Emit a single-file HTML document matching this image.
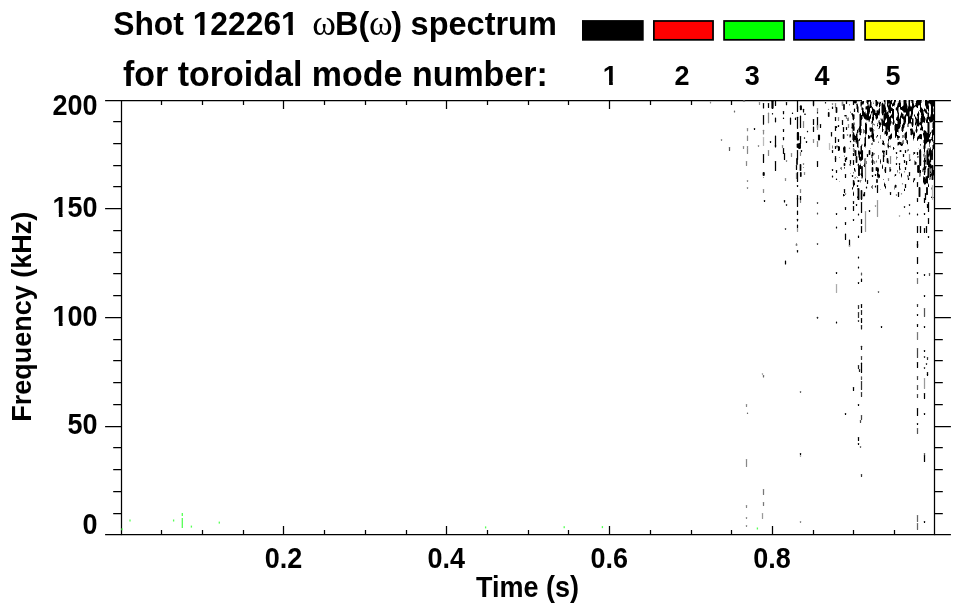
<!DOCTYPE html>
<html><head><meta charset="utf-8"><title>Shot 122261 spectrum</title>
<style>html,body{margin:0;padding:0;background:#fff;width:963px;height:615px;overflow:hidden}svg{display:block}</style>
</head><body><svg width="963" height="615" viewBox="0 0 963 615"><g stroke="#000" stroke-width="1.25" fill="none" stroke-linecap="butt"><path d="M121.5 100.5H934.5V534.5H121.5Z"/><path d="M105.1 534.50H121.5M934.5 534.50H950.9M113.2 513.50H121.5M934.5 513.50H942.8M113.2 491.50H121.5M934.5 491.50H942.8M113.2 469.50H121.5M934.5 469.50H942.8M113.2 447.50H121.5M934.5 447.50H942.8M105.1 426.50H121.5M934.5 426.50H950.9M113.2 404.50H121.5M934.5 404.50H942.8M113.2 382.50H121.5M934.5 382.50H942.8M113.2 360.50H121.5M934.5 360.50H942.8M113.2 339.50H121.5M934.5 339.50H942.8M105.1 317.50H121.5M934.5 317.50H950.9M113.2 295.50H121.5M934.5 295.50H942.8M113.2 273.50H121.5M934.5 273.50H942.8M113.2 252.50H121.5M934.5 252.50H942.8M113.2 230.50H121.5M934.5 230.50H942.8M105.1 208.50H121.5M934.5 208.50H950.9M113.2 186.50H121.5M934.5 186.50H942.8M113.2 165.50H121.5M934.5 165.50H942.8M113.2 143.50H121.5M934.5 143.50H942.8M113.2 121.50H121.5M934.5 121.50H942.8M105.1 100.50H121.5M934.5 100.50H950.9M161.50 534.5V530.1M161.50 100.5V104.9M202.50 534.5V530.1M202.50 100.5V104.9M243.50 534.5V530.1M243.50 100.5V104.9M283.50 534.5V526.0M283.50 100.5V109.0M324.50 534.5V530.1M324.50 100.5V104.9M365.50 534.5V530.1M365.50 100.5V104.9M406.50 534.5V530.1M406.50 100.5V104.9M446.50 534.5V526.0M446.50 100.5V109.0M487.50 534.5V530.1M487.50 100.5V104.9M528.50 534.5V530.1M528.50 100.5V104.9M568.50 534.5V530.1M568.50 100.5V104.9M609.50 534.5V526.0M609.50 100.5V109.0M650.50 534.5V530.1M650.50 100.5V104.9M691.50 534.5V530.1M691.50 100.5V104.9M731.50 534.5V530.1M731.50 100.5V104.9M772.50 534.5V526.0M772.50 100.5V109.0M813.50 534.5V530.1M813.50 100.5V104.9M853.50 534.5V530.1M853.50 100.5V104.9M894.50 534.5V530.1M894.50 100.5V104.9"/></g><g fill="#000"><g transform="translate(113.2 34.9) scale(1 1.04)"><text font-family="'Liberation Sans', Arial, Helvetica, sans-serif" font-weight="bold" font-size="31.8" text-anchor="start">Shot 122261</text><rect x="80.36" y="-4.35" width="6.50" height="5.35" fill="#fff"/><rect x="91.26" y="-4.35" width="6.10" height="5.35" fill="#fff"/><rect x="168.78" y="-4.35" width="6.50" height="5.35" fill="#fff"/><rect x="179.68" y="-4.35" width="6.10" height="5.35" fill="#fff"/></g><text transform="translate(312.2 35) scale(1 1.02)" font-family="'Liberation Serif', 'Times New Roman', serif" font-weight="normal" font-size="36" text-anchor="start">ω</text><text transform="translate(335.1 34.9) scale(1 1.04)" font-family="'Liberation Sans', Arial, Helvetica, sans-serif" font-weight="bold" font-size="32.5" text-anchor="start">B(</text><text transform="translate(368.9 35) scale(1 1.02)" font-family="'Liberation Serif', 'Times New Roman', serif" font-weight="normal" font-size="36" text-anchor="start">ω</text><text transform="translate(391.2 34.9) scale(1 1.04)" font-family="'Liberation Sans', Arial, Helvetica, sans-serif" font-weight="bold" font-size="32.5" text-anchor="start">)</text><text transform="translate(410.6 34.9) scale(1 1.04)" font-family="'Liberation Sans', Arial, Helvetica, sans-serif" font-weight="bold" font-size="32.5" text-anchor="start">spectrum</text><text transform="translate(123 85.9) scale(1 1.03)" font-family="'Liberation Sans', Arial, Helvetica, sans-serif" font-weight="bold" font-size="34" text-anchor="start">for toroidal mode number:</text><g transform="translate(610.3 85.1) scale(1 1.05)"><text font-family="'Liberation Sans', Arial, Helvetica, sans-serif" font-weight="bold" font-size="27" text-anchor="middle">1</text><rect x="-6.90" y="-3.86" width="5.68" height="4.86" fill="#fff"/><rect x="2.52" y="-3.86" width="5.34" height="4.86" fill="#fff"/></g><text transform="translate(681.9 85.1) scale(1 1.05)" font-family="'Liberation Sans', Arial, Helvetica, sans-serif" font-weight="bold" font-size="27" text-anchor="middle">2</text><text transform="translate(752.2 85.1) scale(1 1.05)" font-family="'Liberation Sans', Arial, Helvetica, sans-serif" font-weight="bold" font-size="27" text-anchor="middle">3</text><text transform="translate(822.0 85.1) scale(1 1.05)" font-family="'Liberation Sans', Arial, Helvetica, sans-serif" font-weight="bold" font-size="27" text-anchor="middle">4</text><text transform="translate(892.9 85.1) scale(1 1.05)" font-family="'Liberation Sans', Arial, Helvetica, sans-serif" font-weight="bold" font-size="27" text-anchor="middle">5</text><text transform="translate(97.6 114.8) scale(1 1.065)" font-family="'Liberation Sans', Arial, Helvetica, sans-serif" font-weight="bold" font-size="27" text-anchor="end">200</text><g transform="translate(97.6 217.2) scale(1 1.065)"><text font-family="'Liberation Sans', Arial, Helvetica, sans-serif" font-weight="bold" font-size="27" text-anchor="end">150</text><rect x="-44.43" y="-3.86" width="5.68" height="4.86" fill="#fff"/><rect x="-35.00" y="-3.86" width="5.34" height="4.86" fill="#fff"/></g><g transform="translate(97.6 325.9) scale(1 1.065)"><text font-family="'Liberation Sans', Arial, Helvetica, sans-serif" font-weight="bold" font-size="27" text-anchor="end">100</text><rect x="-44.43" y="-3.86" width="5.68" height="4.86" fill="#fff"/><rect x="-35.00" y="-3.86" width="5.34" height="4.86" fill="#fff"/></g><text transform="translate(97.6 434.3) scale(1 1.065)" font-family="'Liberation Sans', Arial, Helvetica, sans-serif" font-weight="bold" font-size="27" text-anchor="end">50</text><text transform="translate(97.6 534.3) scale(1 1.065)" font-family="'Liberation Sans', Arial, Helvetica, sans-serif" font-weight="bold" font-size="27" text-anchor="end">0</text><text transform="translate(283.48 568.1) scale(1 1.065)" font-family="'Liberation Sans', Arial, Helvetica, sans-serif" font-weight="bold" font-size="27" text-anchor="middle">0.2</text><text transform="translate(446.36 568.1) scale(1 1.065)" font-family="'Liberation Sans', Arial, Helvetica, sans-serif" font-weight="bold" font-size="27" text-anchor="middle">0.4</text><text transform="translate(609.24 568.1) scale(1 1.065)" font-family="'Liberation Sans', Arial, Helvetica, sans-serif" font-weight="bold" font-size="27" text-anchor="middle">0.6</text><text transform="translate(772.12 568.1) scale(1 1.065)" font-family="'Liberation Sans', Arial, Helvetica, sans-serif" font-weight="bold" font-size="27" text-anchor="middle">0.8</text><text transform="translate(476 597.1) scale(1 1.07)" font-family="'Liberation Sans', Arial, Helvetica, sans-serif" font-weight="bold" font-size="27" text-anchor="start">Time (s)</text><text transform="translate(31.4 421.8) rotate(-90) scale(1 1.05)" font-family="'Liberation Sans', Arial, Helvetica, sans-serif" font-weight="bold" font-size="27" text-anchor="start">Frequency (kHz)</text></g><rect x="582.875" y="20.975" width="59.950" height="18.850" fill="#000000" stroke="#000" stroke-width="1.75"/><rect x="653.875" y="20.975" width="59.150" height="18.850" fill="#ff0000" stroke="#000" stroke-width="1.75"/><rect x="724.075" y="20.975" width="59.950" height="18.850" fill="#00ff00" stroke="#000" stroke-width="1.75"/><rect x="793.975" y="20.975" width="59.850" height="18.850" fill="#0000ff" stroke="#000" stroke-width="1.75"/><rect x="865.075" y="20.975" width="58.950" height="18.850" fill="#ffff00" stroke="#000" stroke-width="1.75"/><rect x="862" y="99.6" width="71.8" height="2" fill="#fff"/><path fill="#000" d="M866.5 100h4.5v0.5h-4.5zM875 100h2v0.5h-2zM883.5 100h2v0.5h-2zM886.5 100h4v0.5h-4zM891 100h1.5v0.5h-1.5zM894 100h2v0.5h-2zM899 100h1.5v0.5h-1.5zM903.5 100h3v0.5h-3zM908.5 100h5v0.5h-5zM916.5 100h5.5v0.5h-5.5zM923.5 100h0.5v0.5h-0.5zM925 100h2.5v0.5h-2.5zM928.5 100h5.5v0.5h-5.5zM866.5 100.5h4.5v0.5h-4.5zM875.5 100.5h1.5v0.5h-1.5zM884 100.5h1.5v0.5h-1.5zM887 100.5h3.5v0.5h-3.5zM891 100.5h1.5v0.5h-1.5zM894 100.5h2v0.5h-2zM899 100.5h1.5v0.5h-1.5zM903.5 100.5h3v0.5h-3zM908.5 100.5h1.5v0.5h-1.5zM911 100.5h2.5v0.5h-2.5zM916.5 100.5h5v0.5h-5zM925 100.5h2.5v0.5h-2.5zM928.5 100.5h5.5v0.5h-5.5zM861 101h0.5v0.5h-0.5zM862.5 101h1.5v0.5h-1.5zM866.5 101h4.5v0.5h-4.5zM875.5 101h2v0.5h-2zM884 101h1.5v0.5h-1.5zM887 101h5v0.5h-5zM894 101h2v0.5h-2zM899 101h1.5v0.5h-1.5zM903.5 101h3v0.5h-3zM908.5 101h1.5v0.5h-1.5zM911.5 101h2v0.5h-2zM916 101h5.5v0.5h-5.5zM925 101h9v0.5h-9zM861 101.5h3v0.5h-3zM866.5 101.5h2.5v0.5h-2.5zM870 101.5h1v0.5h-1zM875.5 101.5h2v0.5h-2zM884 101.5h1.5v0.5h-1.5zM887 101.5h5v0.5h-5zM894 101.5h1.5v0.5h-1.5zM898.5 101.5h2v0.5h-2zM903.5 101.5h3v0.5h-3zM908.5 101.5h1.5v0.5h-1.5zM911.5 101.5h2v0.5h-2zM916 101.5h5.5v0.5h-5.5zM925 101.5h9v0.5h-9zM860.5 102h3.5v0.5h-3.5zM866.5 102h2v0.5h-2zM870 102h1.5v0.5h-1.5zM875.5 102h2.5v0.5h-2.5zM880 102h1v0.5h-1zM884.5 102h1v0.5h-1zM887 102h5v0.5h-5zM894 102h1.5v0.5h-1.5zM898.5 102h2v0.5h-2zM903.5 102h3v0.5h-3zM908.5 102h1.5v0.5h-1.5zM911.5 102h2v0.5h-2zM916 102h5.5v0.5h-5.5zM925 102h9v0.5h-9zM860.5 102.5h3.5v0.5h-3.5zM866.5 102.5h2v0.5h-2zM870 102.5h1.5v0.5h-1.5zM873 102.5h0.5v0.5h-0.5zM875.5 102.5h5.5v0.5h-5.5zM882.5 102.5h0.5v0.5h-0.5zM884.5 102.5h1v0.5h-1zM887 102.5h5v0.5h-5zM893 102.5h2v0.5h-2zM898.5 102.5h2.5v0.5h-2.5zM903.5 102.5h3v0.5h-3zM908.5 102.5h1.5v0.5h-1.5zM911.5 102.5h2v0.5h-2zM916 102.5h5.5v0.5h-5.5zM925 102.5h9v0.5h-9zM860.5 103h3.5v0.5h-3.5zM867 103h1.5v0.5h-1.5zM870 103h1.5v0.5h-1.5zM873 103h0.5v0.5h-0.5zM875.5 103h2.5v0.5h-2.5zM878.5 103h2.5v0.5h-2.5zM882 103h1v0.5h-1zM884.5 103h1v0.5h-1zM887 103h5v0.5h-5zM892.5 103h2v0.5h-2zM898 103h3v0.5h-3zM903.5 103h3v0.5h-3zM908.5 103h1.5v0.5h-1.5zM912 103h1.5v0.5h-1.5zM915.5 103h5.5v0.5h-5.5zM925 103h9v0.5h-9zM856.5 103.5h1v0.5h-1zM860.5 103.5h3v0.5h-3zM867 103.5h1.5v0.5h-1.5zM870 103.5h1.5v0.5h-1.5zM873 103.5h0.5v0.5h-0.5zM875.5 103.5h2.5v0.5h-2.5zM878.5 103.5h2v0.5h-2zM881.5 103.5h2v0.5h-2zM884.5 103.5h1v0.5h-1zM887 103.5h1.5v0.5h-1.5zM889.5 103.5h2.5v0.5h-2.5zM892.5 103.5h2v0.5h-2zM897.5 103.5h3.5v0.5h-3.5zM903.5 103.5h3.5v0.5h-3.5zM908.5 103.5h1.5v0.5h-1.5zM912 103.5h2v0.5h-2zM915.5 103.5h5.5v0.5h-5.5zM925 103.5h3.5v0.5h-3.5zM930 103.5h4v0.5h-4zM849.5 104h0.5v0.5h-0.5zM856.5 104h1v0.5h-1zM860.5 104h3v0.5h-3zM867.5 104h1v0.5h-1zM870 104h1.5v0.5h-1.5zM875.5 104h2.5v0.5h-2.5zM879 104h1.5v0.5h-1.5zM881.5 104h2v0.5h-2zM884.5 104h1v0.5h-1zM887 104h1.5v0.5h-1.5zM889.5 104h2v0.5h-2zM892 104h2.5v0.5h-2.5zM897.5 104h3.5v0.5h-3.5zM903.5 104h3.5v0.5h-3.5zM908.5 104h1.5v0.5h-1.5zM912 104h2v0.5h-2zM915.5 104h5.5v0.5h-5.5zM925 104h3.5v0.5h-3.5zM930.5 104h3.5v0.5h-3.5zM849.5 104.5h0.5v0.5h-0.5zM856 104.5h2v0.5h-2zM860.5 104.5h1.5v0.5h-1.5zM867.5 104.5h1v0.5h-1zM869.5 104.5h2v0.5h-2zM875.5 104.5h2.5v0.5h-2.5zM879 104.5h1.5v0.5h-1.5zM881.5 104.5h3.5v0.5h-3.5zM887 104.5h1.5v0.5h-1.5zM889 104.5h2v0.5h-2zM892 104.5h2.5v0.5h-2.5zM897.5 104.5h3.5v0.5h-3.5zM903.5 104.5h3.5v0.5h-3.5zM908.5 104.5h1.5v0.5h-1.5zM912 104.5h2v0.5h-2zM915.5 104.5h5.5v0.5h-5.5zM925 104.5h3.5v0.5h-3.5zM930.5 104.5h3.5v0.5h-3.5zM849.5 105h0.5v0.5h-0.5zM856.5 105h1.5v0.5h-1.5zM860.5 105h1.5v0.5h-1.5zM867.5 105h1v0.5h-1zM869.5 105h2v0.5h-2zM875.5 105h2v0.5h-2zM879 105h1.5v0.5h-1.5zM881.5 105h3.5v0.5h-3.5zM887 105h1.5v0.5h-1.5zM889 105h2v0.5h-2zM892 105h2.5v0.5h-2.5zM897.5 105h3.5v0.5h-3.5zM903.5 105h3.5v0.5h-3.5zM908.5 105h1.5v0.5h-1.5zM912 105h2.5v0.5h-2.5zM915 105h3.5v0.5h-3.5zM919.5 105h1.5v0.5h-1.5zM925 105h3.5v0.5h-3.5zM930.5 105h3.5v0.5h-3.5zM856.5 105.5h1.5v0.5h-1.5zM860.5 105.5h1v0.5h-1zM867.5 105.5h1.5v0.5h-1.5zM869.5 105.5h2v0.5h-2zM875.5 105.5h2v0.5h-2zM879 105.5h1.5v0.5h-1.5zM881.5 105.5h4v0.5h-4zM887 105.5h4v0.5h-4zM892 105.5h2.5v0.5h-2.5zM897 105.5h4v0.5h-4zM903 105.5h4.5v0.5h-4.5zM908.5 105.5h2v0.5h-2zM912 105.5h2.5v0.5h-2.5zM915 105.5h3.5v0.5h-3.5zM920 105.5h1v0.5h-1zM925.5 105.5h3.5v0.5h-3.5zM931 105.5h3v0.5h-3zM856.5 106h1.5v0.5h-1.5zM860.5 106h1v0.5h-1zM866 106h0.5v0.5h-0.5zM867 106h2v0.5h-2zM869.5 106h2.5v0.5h-2.5zM876 106h1.5v0.5h-1.5zM879 106h1v0.5h-1zM881.5 106h4v0.5h-4zM887 106h4v0.5h-4zM892 106h1v0.5h-1zM894 106h0.5v0.5h-0.5zM897 106h4v0.5h-4zM902.5 106h5v0.5h-5zM908.5 106h2v0.5h-2zM912 106h6v0.5h-6zM920 106h1v0.5h-1zM925.5 106h3.5v0.5h-3.5zM931 106h2v0.5h-2zM933.5 106h0.5v0.5h-0.5zM856.5 106.5h2v0.5h-2zM861 106.5h0.5v0.5h-0.5zM865.5 106.5h6.5v0.5h-6.5zM879 106.5h1v0.5h-1zM881.5 106.5h4v0.5h-4zM887.5 106.5h3.5v0.5h-3.5zM897 106.5h4v0.5h-4zM902 106.5h5.5v0.5h-5.5zM908 106.5h7v0.5h-7zM916 106.5h2v0.5h-2zM920 106.5h1v0.5h-1zM926 106.5h3v0.5h-3zM931 106.5h2v0.5h-2zM933.5 106.5h0.5v0.5h-0.5zM856.5 107h2v0.5h-2zM861 107h0.5v0.5h-0.5zM865.5 107h7v0.5h-7zM879.5 107h0.5v0.5h-0.5zM881.5 107h4v0.5h-4zM887.5 107h4v0.5h-4zM896.5 107h2.5v0.5h-2.5zM900 107h7.5v0.5h-7.5zM908 107h6.5v0.5h-6.5zM916.5 107h1.5v0.5h-1.5zM920 107h1.5v0.5h-1.5zM926 107h3v0.5h-3zM931 107h2v0.5h-2zM856.5 107.5h2v0.5h-2zM861.5 107.5h1.5v0.5h-1.5zM865.5 107.5h5.5v0.5h-5.5zM871.5 107.5h1.5v0.5h-1.5zM881.5 107.5h4.5v0.5h-4.5zM888 107.5h3.5v0.5h-3.5zM896 107.5h2.5v0.5h-2.5zM900 107.5h7.5v0.5h-7.5zM908 107.5h6v0.5h-6zM917 107.5h1v0.5h-1zM920 107.5h1.5v0.5h-1.5zM926 107.5h3v0.5h-3zM931 107.5h2v0.5h-2zM856.5 108h2v0.5h-2zM861.5 108h2v0.5h-2zM865.5 108h4.5v0.5h-4.5zM871.5 108h1.5v0.5h-1.5zM879 108h0.5v0.5h-0.5zM881.5 108h4.5v0.5h-4.5zM888 108h4.5v0.5h-4.5zM896 108h2.5v0.5h-2.5zM900 108h7.5v0.5h-7.5zM908 108h5.5v0.5h-5.5zM920 108h2v0.5h-2zM926 108h3v0.5h-3zM931 108h2v0.5h-2zM856.5 108.5h2v0.5h-2zM861.5 108.5h2v0.5h-2zM865.5 108.5h4.5v0.5h-4.5zM872 108.5h1.5v0.5h-1.5zM879 108.5h1v0.5h-1zM881.5 108.5h4.5v0.5h-4.5zM888 108.5h5v0.5h-5zM895.5 108.5h3v0.5h-3zM900 108.5h13.5v0.5h-13.5zM920 108.5h2.5v0.5h-2.5zM924 108.5h1v0.5h-1zM926 108.5h0.5v0.5h-0.5zM927 108.5h2v0.5h-2zM931 108.5h2.5v0.5h-2.5zM857 109h1.5v0.5h-1.5zM861.5 109h2v0.5h-2zM865.5 109h4.5v0.5h-4.5zM872 109h2v0.5h-2zM878.5 109h1.5v0.5h-1.5zM881.5 109h4.5v0.5h-4.5zM888 109h6v0.5h-6zM895.5 109h3v0.5h-3zM900.5 109h13v0.5h-13zM920 109h3v0.5h-3zM924 109h1v0.5h-1zM925.5 109h1v0.5h-1zM927.5 109h1.5v0.5h-1.5zM931 109h2.5v0.5h-2.5zM857 109.5h1.5v0.5h-1.5zM861.5 109.5h2v0.5h-2zM867 109.5h3v0.5h-3zM872 109.5h3v0.5h-3zM878.5 109.5h1.5v0.5h-1.5zM881.5 109.5h4.5v0.5h-4.5zM888.5 109.5h5.5v0.5h-5.5zM896 109.5h2.5v0.5h-2.5zM900.5 109.5h12.5v0.5h-12.5zM920 109.5h3v0.5h-3zM924 109.5h2.5v0.5h-2.5zM928 109.5h1v0.5h-1zM931 109.5h2.5v0.5h-2.5zM857 110h1.5v0.5h-1.5zM862 110h1.5v0.5h-1.5zM867 110h3v0.5h-3zM872 110h3v0.5h-3zM877 110h0.5v0.5h-0.5zM878.5 110h1.5v0.5h-1.5zM881.5 110h5v0.5h-5zM888.5 110h5.5v0.5h-5.5zM896.5 110h2v0.5h-2zM902 110h11v0.5h-11zM919.5 110h7v0.5h-7zM928 110h1v0.5h-1zM931 110h2.5v0.5h-2.5zM857 110.5h1.5v0.5h-1.5zM862 110.5h1.5v0.5h-1.5zM867 110.5h3v0.5h-3zM872 110.5h3.5v0.5h-3.5zM876.5 110.5h3.5v0.5h-3.5zM881.5 110.5h5v0.5h-5zM888.5 110.5h5.5v0.5h-5.5zM896.5 110.5h2v0.5h-2zM902.5 110.5h10.5v0.5h-10.5zM919.5 110.5h4v0.5h-4zM924 110.5h3v0.5h-3zM928 110.5h1v0.5h-1zM931 110.5h2.5v0.5h-2.5zM857 111h1.5v0.5h-1.5zM862 111h2v0.5h-2zM867 111h3v0.5h-3zM871.5 111h4v0.5h-4zM876.5 111h3.5v0.5h-3.5zM881.5 111h5v0.5h-5zM888.5 111h2.5v0.5h-2.5zM892 111h2v0.5h-2zM897 111h1.5v0.5h-1.5zM903 111h7v0.5h-7zM910.5 111h2.5v0.5h-2.5zM920 111h3.5v0.5h-3.5zM924 111h3v0.5h-3zM928.5 111h0.5v0.5h-0.5zM931 111h2.5v0.5h-2.5zM850 111.5h0.5v0.5h-0.5zM857 111.5h1.5v0.5h-1.5zM862 111.5h2v0.5h-2zM865 111.5h0.5v0.5h-0.5zM867 111.5h3v0.5h-3zM871 111.5h4.5v0.5h-4.5zM876.5 111.5h3.5v0.5h-3.5zM881.5 111.5h5v0.5h-5zM887.5 111.5h3.5v0.5h-3.5zM892 111.5h2v0.5h-2zM897 111.5h1.5v0.5h-1.5zM903.5 111.5h6v0.5h-6zM911 111.5h2v0.5h-2zM918 111.5h1v0.5h-1zM920 111.5h3.5v0.5h-3.5zM925 111.5h2v0.5h-2zM928.5 111.5h0.5v0.5h-0.5zM931 111.5h2.5v0.5h-2.5zM850 112h0.5v0.5h-0.5zM857.5 112h1v0.5h-1zM862 112h2.5v0.5h-2.5zM865 112h0.5v0.5h-0.5zM867 112h3v0.5h-3zM871 112h4.5v0.5h-4.5zM876.5 112h3.5v0.5h-3.5zM881.5 112h2.5v0.5h-2.5zM884.5 112h2v0.5h-2zM887 112h1.5v0.5h-1.5zM889 112h2v0.5h-2zM892 112h2v0.5h-2zM897 112h1.5v0.5h-1.5zM903.5 112h6v0.5h-6zM911 112h2v0.5h-2zM918 112h1v0.5h-1zM920.5 112h3v0.5h-3zM925 112h2.5v0.5h-2.5zM928.5 112h0.5v0.5h-0.5zM931 112h2v0.5h-2zM850.5 112.5h0.5v0.5h-0.5zM858 112.5h0.5v0.5h-0.5zM862 112.5h3.5v0.5h-3.5zM867 112.5h2.5v0.5h-2.5zM871 112.5h1v0.5h-1zM872.5 112.5h3v0.5h-3zM876.5 112.5h3.5v0.5h-3.5zM881.5 112.5h2.5v0.5h-2.5zM884.5 112.5h4v0.5h-4zM889.5 112.5h1.5v0.5h-1.5zM892 112.5h2v0.5h-2zM897.5 112.5h1.5v0.5h-1.5zM901 112.5h1v0.5h-1zM906 112.5h3.5v0.5h-3.5zM911 112.5h2v0.5h-2zM918 112.5h1v0.5h-1zM920.5 112.5h3v0.5h-3zM925.5 112.5h2v0.5h-2zM928.5 112.5h0.5v0.5h-0.5zM931 112.5h2v0.5h-2zM851.5 113h1v0.5h-1zM860 113h0.5v0.5h-0.5zM862 113h3.5v0.5h-3.5zM866.5 113h3v0.5h-3zM871 113h0.5v0.5h-0.5zM872.5 113h7.5v0.5h-7.5zM881.5 113h2.5v0.5h-2.5zM884.5 113h4v0.5h-4zM890 113h0.5v0.5h-0.5zM892 113h2v0.5h-2zM897.5 113h1.5v0.5h-1.5zM901 113h1v0.5h-1zM906 113h3.5v0.5h-3.5zM911 113h2v0.5h-2zM917.5 113h1.5v0.5h-1.5zM921 113h2.5v0.5h-2.5zM926 113h1.5v0.5h-1.5zM928 113h1v0.5h-1zM931 113h2v0.5h-2zM851.5 113.5h1.5v0.5h-1.5zM860 113.5h1v0.5h-1zM862 113.5h4v0.5h-4zM866.5 113.5h3v0.5h-3zM871 113.5h0.5v0.5h-0.5zM872.5 113.5h7v0.5h-7zM882 113.5h1.5v0.5h-1.5zM884 113.5h4.5v0.5h-4.5zM892 113.5h2v0.5h-2zM897.5 113.5h1.5v0.5h-1.5zM901 113.5h2v0.5h-2zM906 113.5h3.5v0.5h-3.5zM911 113.5h2v0.5h-2zM917.5 113.5h2v0.5h-2zM921 113.5h3v0.5h-3zM926.5 113.5h2.5v0.5h-2.5zM931 113.5h2v0.5h-2zM851.5 114h2v0.5h-2zM859.5 114h1.5v0.5h-1.5zM862 114h4v0.5h-4zM866.5 114h2.5v0.5h-2.5zM870.5 114h1v0.5h-1zM872.5 114h7v0.5h-7zM882 114h1.5v0.5h-1.5zM884 114h4.5v0.5h-4.5zM891.5 114h2.5v0.5h-2.5zM897.5 114h1.5v0.5h-1.5zM901 114h2.5v0.5h-2.5zM906 114h3.5v0.5h-3.5zM911 114h2v0.5h-2zM917 114h2.5v0.5h-2.5zM921 114h3v0.5h-3zM927.5 114h1.5v0.5h-1.5zM931 114h2v0.5h-2zM933.5 114h0.5v0.5h-0.5zM851.5 114.5h3v0.5h-3zM859.5 114.5h1.5v0.5h-1.5zM862 114.5h7v0.5h-7zM870.5 114.5h0.5v0.5h-0.5zM872.5 114.5h7v0.5h-7zM882 114.5h6.5v0.5h-6.5zM891.5 114.5h2.5v0.5h-2.5zM898 114.5h1v0.5h-1zM900.5 114.5h3v0.5h-3zM905 114.5h4.5v0.5h-4.5zM910.5 114.5h2v0.5h-2zM914 114.5h1v0.5h-1zM917 114.5h2v0.5h-2zM921 114.5h3v0.5h-3zM927.5 114.5h1.5v0.5h-1.5zM930.5 114.5h3.5v0.5h-3.5zM852 115h2.5v0.5h-2.5zM859.5 115h9.5v0.5h-9.5zM870 115h1v0.5h-1zM872.5 115h1.5v0.5h-1.5zM875 115h3v0.5h-3zM878.5 115h1v0.5h-1zM882.5 115h0.5v0.5h-0.5zM883.5 115h5.5v0.5h-5.5zM891 115h3v0.5h-3zM897.5 115h1.5v0.5h-1.5zM900.5 115h3v0.5h-3zM905 115h4.5v0.5h-4.5zM910.5 115h2v0.5h-2zM914 115h1v0.5h-1zM917 115h2v0.5h-2zM921 115h3v0.5h-3zM927.5 115h1.5v0.5h-1.5zM930.5 115h3.5v0.5h-3.5zM852 115.5h2.5v0.5h-2.5zM859.5 115.5h9.5v0.5h-9.5zM870 115.5h1v0.5h-1zM872.5 115.5h1.5v0.5h-1.5zM875 115.5h3v0.5h-3zM883.5 115.5h5.5v0.5h-5.5zM890.5 115.5h3.5v0.5h-3.5zM897.5 115.5h1.5v0.5h-1.5zM900.5 115.5h3v0.5h-3zM904.5 115.5h2v0.5h-2zM907 115.5h2.5v0.5h-2.5zM910.5 115.5h2v0.5h-2zM914 115.5h1v0.5h-1zM917 115.5h2v0.5h-2zM921.5 115.5h2.5v0.5h-2.5zM927.5 115.5h1.5v0.5h-1.5zM930.5 115.5h3.5v0.5h-3.5zM852 116h2.5v0.5h-2.5zM859.5 116h3v0.5h-3zM863 116h6.5v0.5h-6.5zM870 116h1v0.5h-1zM872.5 116h1.5v0.5h-1.5zM875.5 116h2.5v0.5h-2.5zM883.5 116h5.5v0.5h-5.5zM890 116h4v0.5h-4zM897.5 116h1.5v0.5h-1.5zM900 116h3.5v0.5h-3.5zM904.5 116h2v0.5h-2zM907.5 116h2v0.5h-2zM910 116h2.5v0.5h-2.5zM914 116h1v0.5h-1zM917.5 116h1.5v0.5h-1.5zM921 116h3.5v0.5h-3.5zM927.5 116h1.5v0.5h-1.5zM930.5 116h3.5v0.5h-3.5zM852.5 116.5h2v0.5h-2zM859.5 116.5h3v0.5h-3zM863.5 116.5h7.5v0.5h-7.5zM872.5 116.5h1.5v0.5h-1.5zM875.5 116.5h2.5v0.5h-2.5zM883.5 116.5h5.5v0.5h-5.5zM889.5 116.5h4.5v0.5h-4.5zM897 116.5h2v0.5h-2zM900 116.5h6v0.5h-6zM908 116.5h4v0.5h-4zM915 116.5h1v0.5h-1zM917.5 116.5h1.5v0.5h-1.5zM921 116.5h3.5v0.5h-3.5zM927.5 116.5h2v0.5h-2zM930 116.5h4v0.5h-4zM852.5 117h2v0.5h-2zM859.5 117h3v0.5h-3zM863.5 117h7.5v0.5h-7.5zM872 117h2v0.5h-2zM875.5 117h2.5v0.5h-2.5zM883.5 117h10.5v0.5h-10.5zM896.5 117h2.5v0.5h-2.5zM900 117h6v0.5h-6zM908 117h4v0.5h-4zM915 117h1v0.5h-1zM917.5 117h1.5v0.5h-1.5zM921 117h4v0.5h-4zM927 117h7v0.5h-7zM848 117.5h0.5v0.5h-0.5zM852.5 117.5h2v0.5h-2zM859.5 117.5h3v0.5h-3zM864 117.5h7v0.5h-7zM872 117.5h2v0.5h-2zM875.5 117.5h2.5v0.5h-2.5zM883.5 117.5h8v0.5h-8zM892 117.5h2v0.5h-2zM896.5 117.5h2.5v0.5h-2.5zM899.5 117.5h2v0.5h-2zM902 117.5h4v0.5h-4zM908 117.5h4v0.5h-4zM915 117.5h1.5v0.5h-1.5zM917.5 117.5h1.5v0.5h-1.5zM921 117.5h4v0.5h-4zM926.5 117.5h7.5v0.5h-7.5zM847.5 118h1v0.5h-1zM852.5 118h2v0.5h-2zM859.5 118h3v0.5h-3zM864 118h7v0.5h-7zM872 118h2v0.5h-2zM875.5 118h2v0.5h-2zM883.5 118h7.5v0.5h-7.5zM892.5 118h1.5v0.5h-1.5zM896.5 118h2.5v0.5h-2.5zM899.5 118h1.5v0.5h-1.5zM902 118h4v0.5h-4zM908 118h4.5v0.5h-4.5zM915 118h1.5v0.5h-1.5zM917.5 118h1.5v0.5h-1.5zM920.5 118h5v0.5h-5zM926.5 118h7.5v0.5h-7.5zM847.5 118.5h1v0.5h-1zM852.5 118.5h2v0.5h-2zM859.5 118.5h3v0.5h-3zM864.5 118.5h6v0.5h-6zM872 118.5h2v0.5h-2zM876 118.5h1.5v0.5h-1.5zM880.5 118.5h0.5v0.5h-0.5zM881.5 118.5h1v0.5h-1zM883.5 118.5h2.5v0.5h-2.5zM887 118.5h4v0.5h-4zM892.5 118.5h1.5v0.5h-1.5zM896 118.5h3v0.5h-3zM899.5 118.5h1.5v0.5h-1.5zM902.5 118.5h3.5v0.5h-3.5zM908 118.5h5.5v0.5h-5.5zM915 118.5h2v0.5h-2zM917.5 118.5h1.5v0.5h-1.5zM920.5 118.5h5v0.5h-5zM926.5 118.5h7.5v0.5h-7.5zM847.5 119h1v0.5h-1zM852.5 119h1.5v0.5h-1.5zM859.5 119h2.5v0.5h-2.5zM865 119h5v0.5h-5zM872 119h2v0.5h-2zM876 119h1v0.5h-1zM880.5 119h0.5v0.5h-0.5zM881.5 119h1v0.5h-1zM883.5 119h2.5v0.5h-2.5zM887 119h4v0.5h-4zM893 119h1v0.5h-1zM896 119h5v0.5h-5zM903 119h3v0.5h-3zM908 119h3.5v0.5h-3.5zM912 119h1.5v0.5h-1.5zM915.5 119h3.5v0.5h-3.5zM920.5 119h5v0.5h-5zM926.5 119h7.5v0.5h-7.5zM847.5 119.5h1v0.5h-1zM853 119.5h1v0.5h-1zM859.5 119.5h2.5v0.5h-2.5zM866.5 119.5h3.5v0.5h-3.5zM872 119.5h2v0.5h-2zM881 119.5h2v0.5h-2zM883.5 119.5h2v0.5h-2zM887 119.5h4v0.5h-4zM893 119.5h1v0.5h-1zM896 119.5h5v0.5h-5zM903.5 119.5h2.5v0.5h-2.5zM908 119.5h3v0.5h-3zM912 119.5h1.5v0.5h-1.5zM915.5 119.5h3.5v0.5h-3.5zM920.5 119.5h5v0.5h-5zM926 119.5h2v0.5h-2zM929 119.5h5v0.5h-5zM847.5 120h1v0.5h-1zM853 120h0.5v0.5h-0.5zM859.5 120h2v0.5h-2zM866.5 120h1v0.5h-1zM868.5 120h1.5v0.5h-1.5zM872 120h1.5v0.5h-1.5zM879 120h0.5v0.5h-0.5zM881 120h2v0.5h-2zM883.5 120h2v0.5h-2zM887 120h4v0.5h-4zM893 120h1v0.5h-1zM896.5 120h4.5v0.5h-4.5zM903.5 120h2.5v0.5h-2.5zM908 120h3v0.5h-3zM912 120h1.5v0.5h-1.5zM915.5 120h3.5v0.5h-3.5zM920.5 120h5v0.5h-5zM926 120h2v0.5h-2zM929 120h5v0.5h-5zM847.5 120.5h1v0.5h-1zM859.5 120.5h2v0.5h-2zM868.5 120.5h1v0.5h-1zM872 120.5h1.5v0.5h-1.5zM878.5 120.5h1v0.5h-1zM881.5 120.5h3.5v0.5h-3.5zM887 120.5h4v0.5h-4zM893 120.5h1.5v0.5h-1.5zM897 120.5h4v0.5h-4zM903.5 120.5h2.5v0.5h-2.5zM908 120.5h3v0.5h-3zM912 120.5h1.5v0.5h-1.5zM915.5 120.5h3.5v0.5h-3.5zM920.5 120.5h4.5v0.5h-4.5zM926 120.5h2v0.5h-2zM929 120.5h4.5v0.5h-4.5zM859.5 121h2v0.5h-2zM868.5 121h1v0.5h-1zM871.5 121h1.5v0.5h-1.5zM878.5 121h1v0.5h-1zM881.5 121h3.5v0.5h-3.5zM887 121h4.5v0.5h-4.5zM893 121h1.5v0.5h-1.5zM897.5 121h3.5v0.5h-3.5zM903.5 121h2.5v0.5h-2.5zM908 121h3v0.5h-3zM912 121h1.5v0.5h-1.5zM915.5 121h3.5v0.5h-3.5zM920.5 121h4.5v0.5h-4.5zM926 121h2v0.5h-2zM929.5 121h4v0.5h-4zM859.5 121.5h2v0.5h-2zM869 121.5h0.5v0.5h-0.5zM871.5 121.5h1.5v0.5h-1.5zM878.5 121.5h1v0.5h-1zM881.5 121.5h3.5v0.5h-3.5zM887 121.5h4.5v0.5h-4.5zM893 121.5h1.5v0.5h-1.5zM897.5 121.5h3.5v0.5h-3.5zM903.5 121.5h2.5v0.5h-2.5zM908 121.5h3v0.5h-3zM912 121.5h1.5v0.5h-1.5zM915.5 121.5h4v0.5h-4zM920.5 121.5h4.5v0.5h-4.5zM926 121.5h2v0.5h-2zM929.5 121.5h3v0.5h-3zM933 121.5h1v0.5h-1zM859.5 122h2v0.5h-2zM871.5 122h1.5v0.5h-1.5zM878.5 122h1.5v0.5h-1.5zM881.5 122h3.5v0.5h-3.5zM886.5 122h5v0.5h-5zM892.5 122h2v0.5h-2zM897.5 122h3.5v0.5h-3.5zM903.5 122h2.5v0.5h-2.5zM908 122h3v0.5h-3zM911.5 122h2v0.5h-2zM915.5 122h4v0.5h-4zM920 122h3v0.5h-3zM923.5 122h1.5v0.5h-1.5zM926 122h3.5v0.5h-3.5zM930 122h1.5v0.5h-1.5zM933 122h1v0.5h-1zM853.5 122.5h1v0.5h-1zM859.5 122.5h2v0.5h-2zM865.5 122.5h1v0.5h-1zM871.5 122.5h1.5v0.5h-1.5zM878.5 122.5h2.5v0.5h-2.5zM881.5 122.5h3.5v0.5h-3.5zM886 122.5h5.5v0.5h-5.5zM892.5 122.5h2v0.5h-2zM897.5 122.5h3.5v0.5h-3.5zM903.5 122.5h2v0.5h-2zM908 122.5h5.5v0.5h-5.5zM915 122.5h4.5v0.5h-4.5zM920 122.5h2.5v0.5h-2.5zM924 122.5h0.5v0.5h-0.5zM926.5 122.5h3v0.5h-3zM932.5 122.5h1.5v0.5h-1.5zM853.5 123h1v0.5h-1zM859.5 123h2v0.5h-2zM865 123h1.5v0.5h-1.5zM871.5 123h1v0.5h-1zM877 123h0.5v0.5h-0.5zM878.5 123h2.5v0.5h-2.5zM881.5 123h10v0.5h-10zM892.5 123h2v0.5h-2zM897.5 123h3.5v0.5h-3.5zM903 123h2.5v0.5h-2.5zM908 123h5.5v0.5h-5.5zM915 123h7.5v0.5h-7.5zM927.5 123h2v0.5h-2zM932.5 123h1.5v0.5h-1.5zM853.5 123.5h1v0.5h-1zM859.5 123.5h2v0.5h-2zM865 123.5h1.5v0.5h-1.5zM871.5 123.5h1v0.5h-1zM873.5 123.5h0.5v0.5h-0.5zM877 123.5h0.5v0.5h-0.5zM879 123.5h2v0.5h-2zM881.5 123.5h9.5v0.5h-9.5zM892.5 123.5h1.5v0.5h-1.5zM895 123.5h1v0.5h-1zM897.5 123.5h3.5v0.5h-3.5zM903 123.5h2.5v0.5h-2.5zM907.5 123.5h1.5v0.5h-1.5zM911.5 123.5h2v0.5h-2zM915 123.5h1v0.5h-1zM916.5 123.5h5.5v0.5h-5.5zM927.5 123.5h2v0.5h-2zM932.5 123.5h1.5v0.5h-1.5zM853.5 124h1v0.5h-1zM859.5 124h2v0.5h-2zM865 124h2v0.5h-2zM872 124h0.5v0.5h-0.5zM873.5 124h1v0.5h-1zM877 124h0.5v0.5h-0.5zM879 124h2v0.5h-2zM881.5 124h9.5v0.5h-9.5zM892.5 124h1.5v0.5h-1.5zM895 124h5.5v0.5h-5.5zM902.5 124h2.5v0.5h-2.5zM907.5 124h1v0.5h-1zM911.5 124h2v0.5h-2zM915 124h1v0.5h-1zM916.5 124h5.5v0.5h-5.5zM927.5 124h2v0.5h-2zM932.5 124h1.5v0.5h-1.5zM853 124.5h1.5v0.5h-1.5zM859.5 124.5h2v0.5h-2zM865 124.5h2v0.5h-2zM872 124.5h0.5v0.5h-0.5zM873.5 124.5h1v0.5h-1zM877 124.5h0.5v0.5h-0.5zM879 124.5h2v0.5h-2zM881.5 124.5h9v0.5h-9zM893 124.5h0.5v0.5h-0.5zM895 124.5h5.5v0.5h-5.5zM902.5 124.5h2.5v0.5h-2.5zM907.5 124.5h1v0.5h-1zM911.5 124.5h2v0.5h-2zM915 124.5h1v0.5h-1zM916.5 124.5h3v0.5h-3zM920 124.5h2v0.5h-2zM927.5 124.5h2v0.5h-2zM932.5 124.5h1.5v0.5h-1.5zM853 125h1.5v0.5h-1.5zM859.5 125h2v0.5h-2zM865 125h2v0.5h-2zM872 125h0.5v0.5h-0.5zM874 125h0.5v0.5h-0.5zM877 125h1v0.5h-1zM879.5 125h1.5v0.5h-1.5zM882 125h8.5v0.5h-8.5zM894.5 125h6v0.5h-6zM902 125h2.5v0.5h-2.5zM907.5 125h1v0.5h-1zM911.5 125h2v0.5h-2zM915.5 125h0.5v0.5h-0.5zM916.5 125h3v0.5h-3zM920.5 125h1.5v0.5h-1.5zM927.5 125h2v0.5h-2zM932.5 125h1.5v0.5h-1.5zM852.5 125.5h1.5v0.5h-1.5zM859.5 125.5h2v0.5h-2zM865 125.5h2v0.5h-2zM872 125.5h0.5v0.5h-0.5zM877 125.5h1v0.5h-1zM879.5 125.5h1v0.5h-1zM882 125.5h1.5v0.5h-1.5zM884 125.5h6.5v0.5h-6.5zM894.5 125.5h6v0.5h-6zM902 125.5h2.5v0.5h-2.5zM907.5 125.5h1v0.5h-1zM912 125.5h1v0.5h-1zM916.5 125.5h2.5v0.5h-2.5zM921 125.5h1.5v0.5h-1.5zM927.5 125.5h2v0.5h-2zM932.5 125.5h1.5v0.5h-1.5zM852 126h2v0.5h-2zM859.5 126h1.5v0.5h-1.5zM865 126h2v0.5h-2zM872 126h0.5v0.5h-0.5zM877 126h0.5v0.5h-0.5zM879 126h1.5v0.5h-1.5zM882 126h1v0.5h-1zM884.5 126h5.5v0.5h-5.5zM894.5 126h6v0.5h-6zM902 126h2.5v0.5h-2.5zM907.5 126h1v0.5h-1zM912 126h1v0.5h-1zM916.5 126h1v0.5h-1zM918 126h1v0.5h-1zM921 126h1.5v0.5h-1.5zM927.5 126h2v0.5h-2zM932.5 126h1.5v0.5h-1.5zM852 126.5h2v0.5h-2zM859 126.5h2v0.5h-2zM865 126.5h2v0.5h-2zM872 126.5h0.5v0.5h-0.5zM879 126.5h1.5v0.5h-1.5zM882 126.5h1v0.5h-1zM885.5 126.5h4.5v0.5h-4.5zM894.5 126.5h6v0.5h-6zM902 126.5h2.5v0.5h-2.5zM907.5 126.5h1v0.5h-1zM912 126.5h1v0.5h-1zM916 126.5h1v0.5h-1zM921 126.5h1.5v0.5h-1.5zM927.5 126.5h2v0.5h-2zM932.5 126.5h1.5v0.5h-1.5zM851.5 127h2.5v0.5h-2.5zM859 127h2v0.5h-2zM865 127h2v0.5h-2zM870 127h0.5v0.5h-0.5zM871.5 127h1v0.5h-1zM879 127h1v0.5h-1zM882 127h1v0.5h-1zM885.5 127h4.5v0.5h-4.5zM894.5 127h5.5v0.5h-5.5zM901.5 127h3v0.5h-3zM916 127h1v0.5h-1zM921 127h2v0.5h-2zM927.5 127h2v0.5h-2zM932.5 127h1.5v0.5h-1.5zM851.5 127.5h2.5v0.5h-2.5zM859 127.5h2v0.5h-2zM865 127.5h2v0.5h-2zM869.5 127.5h1v0.5h-1zM871.5 127.5h1v0.5h-1zM879 127.5h1v0.5h-1zM882 127.5h1v0.5h-1zM885.5 127.5h4.5v0.5h-4.5zM894.5 127.5h5.5v0.5h-5.5zM901.5 127.5h2.5v0.5h-2.5zM916 127.5h1v0.5h-1zM920.5 127.5h2.5v0.5h-2.5zM927.5 127.5h2v0.5h-2zM932.5 127.5h1.5v0.5h-1.5zM851.5 128h2.5v0.5h-2.5zM858.5 128h2.5v0.5h-2.5zM865 128h2v0.5h-2zM869.5 128h3.5v0.5h-3.5zM878.5 128h1v0.5h-1zM882 128h1v0.5h-1zM885.5 128h4.5v0.5h-4.5zM894.5 128h5.5v0.5h-5.5zM901.5 128h2.5v0.5h-2.5zM916 128h1v0.5h-1zM920.5 128h2.5v0.5h-2.5zM927.5 128h2v0.5h-2zM933 128h1v0.5h-1zM852.5 128.5h1.5v0.5h-1.5zM858.5 128.5h2.5v0.5h-2.5zM865 128.5h2v0.5h-2zM869.5 128.5h3.5v0.5h-3.5zM878.5 128.5h1v0.5h-1zM882 128.5h1v0.5h-1zM885.5 128.5h4.5v0.5h-4.5zM894.5 128.5h4.5v0.5h-4.5zM901.5 128.5h2v0.5h-2zM910.5 128.5h2v0.5h-2zM916 128.5h1v0.5h-1zM920 128.5h3v0.5h-3zM927.5 128.5h2v0.5h-2zM933 128.5h1v0.5h-1zM853 129h1v0.5h-1zM858 129h3.5v0.5h-3.5zM863.5 129h0.5v0.5h-0.5zM865 129h2v0.5h-2zM869.5 129h4v0.5h-4zM882 129h1.5v0.5h-1.5zM885.5 129h4.5v0.5h-4.5zM894.5 129h4v0.5h-4zM901.5 129h2v0.5h-2zM910 129h2.5v0.5h-2.5zM916 129h1.5v0.5h-1.5zM920 129h3v0.5h-3zM927.5 129h2v0.5h-2zM932.5 129h1.5v0.5h-1.5zM853.5 129.5h0.5v0.5h-0.5zM857.5 129.5h1v0.5h-1zM859 129.5h2.5v0.5h-2.5zM863.5 129.5h0.5v0.5h-0.5zM865 129.5h2v0.5h-2zM869.5 129.5h4v0.5h-4zM882 129.5h1.5v0.5h-1.5zM885.5 129.5h2v0.5h-2zM888 129.5h2v0.5h-2zM894.5 129.5h4v0.5h-4zM901.5 129.5h2v0.5h-2zM910 129.5h3v0.5h-3zM915.5 129.5h2v0.5h-2zM920 129.5h3v0.5h-3zM927.5 129.5h2v0.5h-2zM932.5 129.5h1.5v0.5h-1.5zM853.5 130h0.5v0.5h-0.5zM857 130h1.5v0.5h-1.5zM859 130h2.5v0.5h-2.5zM863.5 130h1v0.5h-1zM865 130h2v0.5h-2zM869.5 130h4v0.5h-4zM882 130h1.5v0.5h-1.5zM885.5 130h2v0.5h-2zM888.5 130h1.5v0.5h-1.5zM894.5 130h4v0.5h-4zM901.5 130h2v0.5h-2zM910 130h3v0.5h-3zM915.5 130h2v0.5h-2zM920 130h0.5v0.5h-0.5zM921.5 130h1.5v0.5h-1.5zM924 130h0.5v0.5h-0.5zM927.5 130h2v0.5h-2zM932 130h2v0.5h-2zM857 130.5h1.5v0.5h-1.5zM859 130.5h2.5v0.5h-2.5zM863.5 130.5h1v0.5h-1zM865 130.5h2v0.5h-2zM870 130.5h3.5v0.5h-3.5zM874.5 130.5h0.5v0.5h-0.5zM882 130.5h1v0.5h-1zM885.5 130.5h2v0.5h-2zM888.5 130.5h1.5v0.5h-1.5zM895 130.5h3.5v0.5h-3.5zM901.5 130.5h2v0.5h-2zM910.5 130.5h3v0.5h-3zM915.5 130.5h2v0.5h-2zM922 130.5h0.5v0.5h-0.5zM923.5 130.5h2v0.5h-2zM927.5 130.5h2v0.5h-2zM931.5 130.5h2.5v0.5h-2.5zM857 131h1.5v0.5h-1.5zM859 131h2.5v0.5h-2.5zM863.5 131h1v0.5h-1zM865 131h2v0.5h-2zM870 131h3.5v0.5h-3.5zM882 131h1v0.5h-1zM885 131h2.5v0.5h-2.5zM888.5 131h1.5v0.5h-1.5zM895 131h3.5v0.5h-3.5zM902 131h1v0.5h-1zM910.5 131h3v0.5h-3zM915.5 131h2v0.5h-2zM923.5 131h2.5v0.5h-2.5zM927.5 131h2v0.5h-2zM931.5 131h2.5v0.5h-2.5zM857 131.5h1.5v0.5h-1.5zM859 131.5h2.5v0.5h-2.5zM863.5 131.5h1v0.5h-1zM865 131.5h2v0.5h-2zM870 131.5h0.5v0.5h-0.5zM871.5 131.5h2v0.5h-2zM882 131.5h1v0.5h-1zM884.5 131.5h3v0.5h-3zM888.5 131.5h1v0.5h-1zM895 131.5h3.5v0.5h-3.5zM902 131.5h1v0.5h-1zM906 131.5h0.5v0.5h-0.5zM910.5 131.5h3v0.5h-3zM914.5 131.5h0.5v0.5h-0.5zM916 131.5h1v0.5h-1zM923.5 131.5h3v0.5h-3zM927.5 131.5h2v0.5h-2zM931.5 131.5h2.5v0.5h-2.5zM853.5 132h0.5v0.5h-0.5zM857 132h1.5v0.5h-1.5zM859.5 132h2v0.5h-2zM863.5 132h1v0.5h-1zM865 132h2v0.5h-2zM871.5 132h2v0.5h-2zM884.5 132h3.5v0.5h-3.5zM895 132h2v0.5h-2zM898 132h0.5v0.5h-0.5zM905.5 132h1.5v0.5h-1.5zM910.5 132h3v0.5h-3zM914.5 132h0.5v0.5h-0.5zM916 132h1v0.5h-1zM923.5 132h3v0.5h-3zM927.5 132h2v0.5h-2zM930.5 132h0.5v0.5h-0.5zM931.5 132h2.5v0.5h-2.5zM853 132.5h1v0.5h-1zM856.5 132.5h1.5v0.5h-1.5zM859.5 132.5h2v0.5h-2zM863.5 132.5h1v0.5h-1zM865 132.5h2v0.5h-2zM871.5 132.5h2v0.5h-2zM884.5 132.5h3.5v0.5h-3.5zM895 132.5h2v0.5h-2zM905.5 132.5h1.5v0.5h-1.5zM910.5 132.5h4.5v0.5h-4.5zM916.5 132.5h0.5v0.5h-0.5zM923.5 132.5h3.5v0.5h-3.5zM927.5 132.5h2v0.5h-2zM930 132.5h1v0.5h-1zM931.5 132.5h2.5v0.5h-2.5zM853 133h1v0.5h-1zM856.5 133h1v0.5h-1zM859.5 133h1.5v0.5h-1.5zM863.5 133h0.5v0.5h-0.5zM865 133h2v0.5h-2zM871.5 133h2v0.5h-2zM884.5 133h3.5v0.5h-3.5zM895 133h2v0.5h-2zM905 133h2v0.5h-2zM910.5 133h4.5v0.5h-4.5zM923 133h6v0.5h-6zM929.5 133h1.5v0.5h-1.5zM932 133h2v0.5h-2zM852.5 133.5h2v0.5h-2zM856.5 133.5h1v0.5h-1zM859.5 133.5h1.5v0.5h-1.5zM865 133.5h1.5v0.5h-1.5zM871.5 133.5h2.5v0.5h-2.5zM884.5 133.5h3.5v0.5h-3.5zM891 133.5h1v0.5h-1zM895 133.5h2v0.5h-2zM904.5 133.5h2.5v0.5h-2.5zM910.5 133.5h4.5v0.5h-4.5zM923 133.5h6v0.5h-6zM929.5 133.5h1.5v0.5h-1.5zM932 133.5h2v0.5h-2zM850 134h0.5v0.5h-0.5zM852.5 134h2v0.5h-2zM856 134h1.5v0.5h-1.5zM859.5 134h1.5v0.5h-1.5zM865 134h0.5v0.5h-0.5zM866 134h0.5v0.5h-0.5zM871.5 134h2.5v0.5h-2.5zM884.5 134h0.5v0.5h-0.5zM885.5 134h2.5v0.5h-2.5zM890.5 134h1.5v0.5h-1.5zM895 134h2v0.5h-2zM904.5 134h2.5v0.5h-2.5zM910.5 134h4.5v0.5h-4.5zM919.5 134h2v0.5h-2zM923 134h7.5v0.5h-7.5zM932 134h2v0.5h-2zM849.5 134.5h1.5v0.5h-1.5zM852.5 134.5h2v0.5h-2zM856 134.5h1.5v0.5h-1.5zM859.5 134.5h1.5v0.5h-1.5zM865 134.5h0.5v0.5h-0.5zM871.5 134.5h2.5v0.5h-2.5zM886 134.5h1.5v0.5h-1.5zM890.5 134.5h1.5v0.5h-1.5zM895 134.5h2v0.5h-2zM904.5 134.5h2.5v0.5h-2.5zM910.5 134.5h1.5v0.5h-1.5zM913 134.5h2v0.5h-2zM919.5 134.5h2.5v0.5h-2.5zM923 134.5h7.5v0.5h-7.5zM932 134.5h2v0.5h-2zM849.5 135h1.5v0.5h-1.5zM852.5 135h2.5v0.5h-2.5zM856 135h1.5v0.5h-1.5zM860 135h0.5v0.5h-0.5zM865 135h0.5v0.5h-0.5zM868 135h1v0.5h-1zM871 135h3v0.5h-3zM877 135h1v0.5h-1zM880 135h0.5v0.5h-0.5zM886 135h1.5v0.5h-1.5zM890 135h2v0.5h-2zM895 135h3v0.5h-3zM902.5 135h1v0.5h-1zM904.5 135h2.5v0.5h-2.5zM911 135h0.5v0.5h-0.5zM913 135h2v0.5h-2zM919 135h3v0.5h-3zM923 135h7.5v0.5h-7.5zM932 135h1.5v0.5h-1.5zM849.5 135.5h1.5v0.5h-1.5zM852.5 135.5h2.5v0.5h-2.5zM855.5 135.5h2v0.5h-2zM865 135.5h0.5v0.5h-0.5zM868 135.5h1.5v0.5h-1.5zM870 135.5h4v0.5h-4zM877 135.5h1v0.5h-1zM880 135.5h0.5v0.5h-0.5zM886 135.5h1v0.5h-1zM889.5 135.5h2.5v0.5h-2.5zM895 135.5h3.5v0.5h-3.5zM902.5 135.5h1v0.5h-1zM904.5 135.5h2.5v0.5h-2.5zM913 135.5h2v0.5h-2zM918.5 135.5h3.5v0.5h-3.5zM923.5 135.5h6.5v0.5h-6.5zM932 135.5h1v0.5h-1zM849.5 136h1.5v0.5h-1.5zM852.5 136h5v0.5h-5zM865 136h0.5v0.5h-0.5zM868 136h6v0.5h-6zM876.5 136h1v0.5h-1zM880 136h0.5v0.5h-0.5zM888.5 136h3.5v0.5h-3.5zM895 136h1.5v0.5h-1.5zM897 136h2v0.5h-2zM899.5 136h0.5v0.5h-0.5zM902.5 136h1v0.5h-1zM904.5 136h2.5v0.5h-2.5zM913 136h1.5v0.5h-1.5zM918 136h4v0.5h-4zM923.5 136h6.5v0.5h-6.5zM932 136h1v0.5h-1zM849.5 136.5h1v0.5h-1zM852.5 136.5h5v0.5h-5zM865 136.5h0.5v0.5h-0.5zM868 136.5h2.5v0.5h-2.5zM871 136.5h3v0.5h-3zM876.5 136.5h1v0.5h-1zM880 136.5h0.5v0.5h-0.5zM888.5 136.5h3.5v0.5h-3.5zM895 136.5h1v0.5h-1zM897 136.5h3v0.5h-3zM902.5 136.5h1v0.5h-1zM904.5 136.5h2.5v0.5h-2.5zM913 136.5h1.5v0.5h-1.5zM917.5 136.5h4.5v0.5h-4.5zM923.5 136.5h6.5v0.5h-6.5zM932 136.5h1v0.5h-1zM849.5 137h1v0.5h-1zM852.5 137h5v0.5h-5zM865 137h1v0.5h-1zM868 137h2.5v0.5h-2.5zM871.5 137h2.5v0.5h-2.5zM876.5 137h0.5v0.5h-0.5zM880 137h0.5v0.5h-0.5zM888.5 137h3.5v0.5h-3.5zM895 137h1v0.5h-1zM897 137h3v0.5h-3zM902.5 137h1v0.5h-1zM904.5 137h2.5v0.5h-2.5zM913 137h1.5v0.5h-1.5zM917.5 137h4.5v0.5h-4.5zM923.5 137h6.5v0.5h-6.5zM931.5 137h1.5v0.5h-1.5zM852.5 137.5h5v0.5h-5zM864.5 137.5h1.5v0.5h-1.5zM868 137.5h2v0.5h-2zM871.5 137.5h2.5v0.5h-2.5zM876.5 137.5h0.5v0.5h-0.5zM880 137.5h0.5v0.5h-0.5zM888.5 137.5h3.5v0.5h-3.5zM895.5 137.5h0.5v0.5h-0.5zM897 137.5h2v0.5h-2zM899.5 137.5h0.5v0.5h-0.5zM902.5 137.5h0.5v0.5h-0.5zM904.5 137.5h2.5v0.5h-2.5zM913 137.5h1.5v0.5h-1.5zM917 137.5h5v0.5h-5zM924 137.5h5v0.5h-5zM931.5 137.5h1.5v0.5h-1.5zM852.5 138h5.5v0.5h-5.5zM864.5 138h1.5v0.5h-1.5zM868 138h1.5v0.5h-1.5zM872 138h2v0.5h-2zM880 138h0.5v0.5h-0.5zM888.5 138h3v0.5h-3zM897.5 138h1v0.5h-1zM905 138h1.5v0.5h-1.5zM913 138h1v0.5h-1zM917 138h5v0.5h-5zM924 138h5v0.5h-5zM931.5 138h1.5v0.5h-1.5zM852.5 138.5h5.5v0.5h-5.5zM859.5 138.5h1v0.5h-1zM864.5 138.5h1.5v0.5h-1.5zM868.5 138.5h1v0.5h-1zM872 138.5h2v0.5h-2zM880 138.5h0.5v0.5h-0.5zM888.5 138.5h3v0.5h-3zM897.5 138.5h1v0.5h-1zM905 138.5h1.5v0.5h-1.5zM913 138.5h1v0.5h-1zM917 138.5h2.5v0.5h-2.5zM920 138.5h2v0.5h-2zM924 138.5h5v0.5h-5zM931.5 138.5h1.5v0.5h-1.5zM852.5 139h5.5v0.5h-5.5zM859 139h1v0.5h-1zM864.5 139h1.5v0.5h-1.5zM872.5 139h2v0.5h-2zM888 139h1.5v0.5h-1.5zM890 139h1v0.5h-1zM897.5 139h1v0.5h-1zM905 139h1.5v0.5h-1.5zM913 139h0.5v0.5h-0.5zM917 139h1.5v0.5h-1.5zM921 139h0.5v0.5h-0.5zM924 139h5v0.5h-5zM929.5 139h1v0.5h-1zM931 139h2v0.5h-2zM852.5 139.5h6v0.5h-6zM859 139.5h1v0.5h-1zM864.5 139.5h1.5v0.5h-1.5zM872.5 139.5h2v0.5h-2zM888 139.5h1v0.5h-1zM897.5 139.5h1v0.5h-1zM905.5 139.5h1v0.5h-1zM913 139.5h0.5v0.5h-0.5zM917 139.5h1v0.5h-1zM924 139.5h9v0.5h-9zM853 140h1.5v0.5h-1.5zM855.5 140h4.5v0.5h-4.5zM864.5 140h1.5v0.5h-1.5zM872.5 140h2v0.5h-2zM882.5 140h0.5v0.5h-0.5zM888 140h1v0.5h-1zM903 140h0.5v0.5h-0.5zM906 140h1.5v0.5h-1.5zM913 140h0.5v0.5h-0.5zM917 140h1v0.5h-1zM923.5 140h8v0.5h-8zM932 140h1.5v0.5h-1.5zM853 140.5h1.5v0.5h-1.5zM855.5 140.5h3v0.5h-3zM859 140.5h0.5v0.5h-0.5zM864.5 140.5h1.5v0.5h-1.5zM872.5 140.5h2v0.5h-2zM882.5 140.5h1v0.5h-1zM888 140.5h1v0.5h-1zM902.5 140.5h1v0.5h-1zM906.5 140.5h1.5v0.5h-1.5zM917 140.5h0.5v0.5h-0.5zM923.5 140.5h7.5v0.5h-7.5zM932 140.5h1.5v0.5h-1.5zM853.5 141h1v0.5h-1zM855.5 141h3v0.5h-3zM864.5 141h1.5v0.5h-1.5zM873 141h1.5v0.5h-1.5zM882.5 141h1.5v0.5h-1.5zM888 141h0.5v0.5h-0.5zM902.5 141h1v0.5h-1zM906.5 141h1.5v0.5h-1.5zM923.5 141h7.5v0.5h-7.5zM932.5 141h1v0.5h-1zM853.5 141.5h1v0.5h-1zM855.5 141.5h3v0.5h-3zM864.5 141.5h1.5v0.5h-1.5zM873.5 141.5h1v0.5h-1zM878 141.5h0.5v0.5h-0.5zM882.5 141.5h1.5v0.5h-1.5zM888 141.5h0.5v0.5h-0.5zM899 141.5h0.5v0.5h-0.5zM902.5 141.5h1v0.5h-1zM906.5 141.5h1.5v0.5h-1.5zM923.5 141.5h4.5v0.5h-4.5zM928.5 141.5h2v0.5h-2zM932.5 141.5h1v0.5h-1zM855.5 142h3v0.5h-3zM864.5 142h1.5v0.5h-1.5zM878 142h0.5v0.5h-0.5zM882.5 142h1.5v0.5h-1.5zM888 142h0.5v0.5h-0.5zM898 142h3.5v0.5h-3.5zM902.5 142h1v0.5h-1zM906.5 142h1.5v0.5h-1.5zM923.5 142h4v0.5h-4zM929 142h1.5v0.5h-1.5zM933 142h1v0.5h-1zM856.5 142.5h2v0.5h-2zM864.5 142.5h1.5v0.5h-1.5zM872 142.5h0.5v0.5h-0.5zM878 142.5h0.5v0.5h-0.5zM882.5 142.5h1.5v0.5h-1.5zM888 142.5h0.5v0.5h-0.5zM897.5 142.5h4v0.5h-4zM902.5 142.5h1v0.5h-1zM906.5 142.5h1.5v0.5h-1.5zM923.5 142.5h3.5v0.5h-3.5zM929 142.5h1.5v0.5h-1.5zM933.5 142.5h0.5v0.5h-0.5zM856.5 143h2v0.5h-2zM864.5 143h1.5v0.5h-1.5zM871.5 143h1v0.5h-1zM882 143h2.5v0.5h-2.5zM888 143h0.5v0.5h-0.5zM897.5 143h4v0.5h-4zM902.5 143h1v0.5h-1zM907 143h1v0.5h-1zM924 143h3v0.5h-3zM929 143h1v0.5h-1zM933.5 143h0.5v0.5h-0.5zM856.5 143.5h2v0.5h-2zM864 143.5h2v0.5h-2zM871.5 143.5h1v0.5h-1zM882 143.5h2.5v0.5h-2.5zM887.5 143.5h1v0.5h-1zM897.5 143.5h6v0.5h-6zM907 143.5h1v0.5h-1zM924 143.5h2v0.5h-2zM929 143.5h0.5v0.5h-0.5zM933.5 143.5h0.5v0.5h-0.5zM857 144h1.5v0.5h-1.5zM864 144h2v0.5h-2zM871.5 144h1v0.5h-1zM882.5 144h2v0.5h-2zM887.5 144h1v0.5h-1zM897.5 144h5.5v0.5h-5.5zM907.5 144h0.5v0.5h-0.5zM920 144h0.5v0.5h-0.5zM924 144h2v0.5h-2zM929 144h0.5v0.5h-0.5zM933.5 144h0.5v0.5h-0.5zM857 144.5h1.5v0.5h-1.5zM861.5 144.5h1v0.5h-1zM864 144.5h2v0.5h-2zM871.5 144.5h1v0.5h-1zM882.5 144.5h2v0.5h-2zM887.5 144.5h1v0.5h-1zM897.5 144.5h1.5v0.5h-1.5zM900 144.5h3v0.5h-3zM920 144.5h1v0.5h-1zM924 144.5h1.5v0.5h-1.5zM929 144.5h0.5v0.5h-0.5zM933 144.5h1v0.5h-1zM857 145h1.5v0.5h-1.5zM861.5 145h1v0.5h-1zM864 145h2v0.5h-2zM884 145h0.5v0.5h-0.5zM887.5 145h1.5v0.5h-1.5zM897.5 145h1v0.5h-1zM900.5 145h2.5v0.5h-2.5zM920 145h1v0.5h-1zM924 145h1.5v0.5h-1.5zM929 145h0.5v0.5h-0.5zM932.5 145h1.5v0.5h-1.5zM832.5 145.5h0.5v0.5h-0.5zM836.5 145.5h1v0.5h-1zM857 145.5h1.5v0.5h-1.5zM861 145.5h1v0.5h-1zM864 145.5h2v0.5h-2zM887.5 145.5h1.5v0.5h-1.5zM890 145.5h0.5v0.5h-0.5zM901 145.5h1v0.5h-1zM923.5 145.5h2v0.5h-2zM929 145.5h0.5v0.5h-0.5zM932.5 145.5h1.5v0.5h-1.5zM832.5 146h0.5v0.5h-0.5zM836.5 146h1v0.5h-1zM839 146h0.5v0.5h-0.5zM857 146h1.5v0.5h-1.5zM860.5 146h1.5v0.5h-1.5zM864 146h1.5v0.5h-1.5zM887.5 146h3v0.5h-3zM923.5 146h2v0.5h-2zM929 146h0.5v0.5h-0.5zM932.5 146h1.5v0.5h-1.5zM832.5 146.5h0.5v0.5h-0.5zM836.5 146.5h1v0.5h-1zM838.5 146.5h1v0.5h-1zM844 146.5h1v0.5h-1zM857 146.5h1.5v0.5h-1.5zM860.5 146.5h1.5v0.5h-1.5zM864.5 146.5h1v0.5h-1zM887.5 146.5h1.5v0.5h-1.5zM889.5 146.5h1v0.5h-1zM923.5 146.5h2v0.5h-2zM929 146.5h0.5v0.5h-0.5zM932.5 146.5h1.5v0.5h-1.5zM832.5 147h0.5v0.5h-0.5zM836.5 147h1v0.5h-1zM838.5 147h1.5v0.5h-1.5zM844 147h1v0.5h-1zM857.5 147h1v0.5h-1zM860.5 147h1.5v0.5h-1.5zM865 147h0.5v0.5h-0.5zM887.5 147h1.5v0.5h-1.5zM890 147h0.5v0.5h-0.5zM893 147h1v0.5h-1zM923.5 147h2v0.5h-2zM930 147h0.5v0.5h-0.5zM932.5 147h1.5v0.5h-1.5zM832.5 147.5h0.5v0.5h-0.5zM838.5 147.5h1.5v0.5h-1.5zM843.5 147.5h1.5v0.5h-1.5zM858 147.5h0.5v0.5h-0.5zM860.5 147.5h1.5v0.5h-1.5zM888 147.5h0.5v0.5h-0.5zM893 147.5h1v0.5h-1zM923.5 147.5h2v0.5h-2zM930 147.5h0.5v0.5h-0.5zM932.5 147.5h1.5v0.5h-1.5zM832.5 148h0.5v0.5h-0.5zM838.5 148h1.5v0.5h-1.5zM843 148h2v0.5h-2zM853.5 148h0.5v0.5h-0.5zM860.5 148h1.5v0.5h-1.5zM888 148h0.5v0.5h-0.5zM893 148h1.5v0.5h-1.5zM918 148h0.5v0.5h-0.5zM923.5 148h2v0.5h-2zM928 148h0.5v0.5h-0.5zM929.5 148h1v0.5h-1zM932.5 148h1.5v0.5h-1.5zM838.5 148.5h1.5v0.5h-1.5zM843 148.5h2v0.5h-2zM853.5 148.5h0.5v0.5h-0.5zM860.5 148.5h1.5v0.5h-1.5zM870 148.5h0.5v0.5h-0.5zM893 148.5h1.5v0.5h-1.5zM923.5 148.5h1.5v0.5h-1.5zM927.5 148.5h1v0.5h-1zM929.5 148.5h1.5v0.5h-1.5zM932.5 148.5h1.5v0.5h-1.5zM838.5 149h1.5v0.5h-1.5zM843 149h2v0.5h-2zM853.5 149h1v0.5h-1zM860.5 149h1.5v0.5h-1.5zM893 149h1v0.5h-1zM908 149h0.5v0.5h-0.5zM920 149h0.5v0.5h-0.5zM924 149h1v0.5h-1zM927.5 149h1v0.5h-1zM929.5 149h1.5v0.5h-1.5zM932 149h1.5v0.5h-1.5zM838.5 149.5h1.5v0.5h-1.5zM843.5 149.5h1.5v0.5h-1.5zM853.5 149.5h1v0.5h-1zM860.5 149.5h1.5v0.5h-1.5zM893.5 149.5h0.5v0.5h-0.5zM907.5 149.5h1v0.5h-1zM919.5 149.5h1.5v0.5h-1.5zM924 149.5h1v0.5h-1zM927.5 149.5h1v0.5h-1zM929 149.5h2v0.5h-2zM932 149.5h1v0.5h-1zM838.5 150h1v0.5h-1zM843.5 150h1.5v0.5h-1.5zM853.5 150h1v0.5h-1zM858.5 150h0.5v0.5h-0.5zM860.5 150h1.5v0.5h-1.5zM907.5 150h1v0.5h-1zM919.5 150h1.5v0.5h-1.5zM924 150h1v0.5h-1zM927.5 150h0.5v0.5h-0.5zM929 150h2v0.5h-2zM932.5 150h0.5v0.5h-0.5zM839 150.5h0.5v0.5h-0.5zM843.5 150.5h1.5v0.5h-1.5zM853.5 150.5h1v0.5h-1zM858.5 150.5h1v0.5h-1zM860.5 150.5h1.5v0.5h-1.5zM882 150.5h2.5v0.5h-2.5zM907.5 150.5h1v0.5h-1zM919.5 150.5h1.5v0.5h-1.5zM924 150.5h1v0.5h-1zM929 150.5h2v0.5h-2zM932.5 150.5h0.5v0.5h-0.5zM843.5 151h1.5v0.5h-1.5zM853.5 151h1v0.5h-1zM858 151h1.5v0.5h-1.5zM860.5 151h1v0.5h-1zM882 151h3v0.5h-3zM907.5 151h0.5v0.5h-0.5zM919.5 151h1.5v0.5h-1.5zM924 151h1v0.5h-1zM929 151h2v0.5h-2zM844 151.5h1v0.5h-1zM853.5 151.5h1v0.5h-1zM858 151.5h3.5v0.5h-3.5zM882 151.5h3v0.5h-3zM919.5 151.5h1.5v0.5h-1.5zM924 151.5h1v0.5h-1zM929 151.5h2v0.5h-2zM854 152h0.5v0.5h-0.5zM858 152h3.5v0.5h-3.5zM882.5 152h2.5v0.5h-2.5zM913 152h0.5v0.5h-0.5zM919.5 152h1.5v0.5h-1.5zM924 152h0.5v0.5h-0.5zM929 152h2v0.5h-2zM858 152.5h3.5v0.5h-3.5zM882.5 152.5h2.5v0.5h-2.5zM913 152.5h0.5v0.5h-0.5zM919.5 152.5h1.5v0.5h-1.5zM924 152.5h0.5v0.5h-0.5zM928.5 152.5h2.5v0.5h-2.5zM858 153h3.5v0.5h-3.5zM873.5 153h1v0.5h-1zM883 153h2v0.5h-2zM913 153h0.5v0.5h-0.5zM919.5 153h1.5v0.5h-1.5zM928.5 153h4v0.5h-4zM858 153.5h3.5v0.5h-3.5zM873.5 153.5h1v0.5h-1zM883 153.5h1.5v0.5h-1.5zM913 153.5h0.5v0.5h-0.5zM920 153.5h1v0.5h-1zM928.5 153.5h4.5v0.5h-4.5zM858 154h2v0.5h-2zM860.5 154h0.5v0.5h-0.5zM873.5 154h1v0.5h-1zM883 154h1.5v0.5h-1.5zM913 154h0.5v0.5h-0.5zM920 154h1v0.5h-1zM923.5 154h0.5v0.5h-0.5zM928 154h5v0.5h-5zM858.5 154.5h1.5v0.5h-1.5zM871.5 154.5h0.5v0.5h-0.5zM873.5 154.5h0.5v0.5h-0.5zM883.5 154.5h1v0.5h-1zM913 154.5h0.5v0.5h-0.5zM920 154.5h0.5v0.5h-0.5zM923.5 154.5h1.5v0.5h-1.5zM928 154.5h5v0.5h-5zM858.5 155h1.5v0.5h-1.5zM871.5 155h1v0.5h-1zM873.5 155h0.5v0.5h-0.5zM878 155h0.5v0.5h-0.5zM883.5 155h1v0.5h-1zM923.5 155h2v0.5h-2zM928 155h5v0.5h-5zM844.5 155.5h0.5v0.5h-0.5zM858.5 155.5h1.5v0.5h-1.5zM871 155.5h1.5v0.5h-1.5zM878 155.5h0.5v0.5h-0.5zM883.5 155.5h1v0.5h-1zM923.5 155.5h2v0.5h-2zM928 155.5h1.5v0.5h-1.5zM930 155.5h3v0.5h-3zM844.5 156h0.5v0.5h-0.5zM858.5 156h1.5v0.5h-1.5zM871.5 156h1v0.5h-1zM878 156h0.5v0.5h-0.5zM884 156h1v0.5h-1zM917.5 156h1v0.5h-1zM923.5 156h2v0.5h-2zM927.5 156h2v0.5h-2zM930 156h2.5v0.5h-2.5zM844.5 156.5h0.5v0.5h-0.5zM858.5 156.5h2v0.5h-2zM871.5 156.5h1v0.5h-1zM878 156.5h0.5v0.5h-0.5zM896.5 156.5h0.5v0.5h-0.5zM917.5 156.5h1v0.5h-1zM924 156.5h1.5v0.5h-1.5zM927.5 156.5h0.5v0.5h-0.5zM928.5 156.5h0.5v0.5h-0.5zM930 156.5h1v0.5h-1zM858.5 157h3v0.5h-3zM871.5 157h1v0.5h-1zM878 157h0.5v0.5h-0.5zM896.5 157h1v0.5h-1zM917.5 157h1v0.5h-1zM924 157h1.5v0.5h-1.5zM927.5 157h0.5v0.5h-0.5zM930 157h1v0.5h-1zM859 157.5h3v0.5h-3zM871.5 157.5h1v0.5h-1zM878 157.5h0.5v0.5h-0.5zM896.5 157.5h1v0.5h-1zM917.5 157.5h0.5v0.5h-0.5zM924 157.5h1.5v0.5h-1.5zM927.5 157.5h0.5v0.5h-0.5zM930 157.5h0.5v0.5h-0.5zM859 158h3v0.5h-3zM872 158h0.5v0.5h-0.5zM878 158h0.5v0.5h-0.5zM896.5 158h0.5v0.5h-0.5zM924 158h1.5v0.5h-1.5zM927.5 158h0.5v0.5h-0.5zM930 158h0.5v0.5h-0.5zM859 158.5h3v0.5h-3zM864.5 158.5h1v0.5h-1zM872 158.5h0.5v0.5h-0.5zM878 158.5h0.5v0.5h-0.5zM896.5 158.5h0.5v0.5h-0.5zM909 158.5h1v0.5h-1zM924 158.5h1.5v0.5h-1.5zM927 158.5h1.5v0.5h-1.5zM930 158.5h0.5v0.5h-0.5zM859 159h3v0.5h-3zM864.5 159h1v0.5h-1zM872 159h0.5v0.5h-0.5zM880 159h0.5v0.5h-0.5zM896.5 159h0.5v0.5h-0.5zM909 159h1.5v0.5h-1.5zM924 159h1.5v0.5h-1.5zM927 159h2v0.5h-2zM930 159h0.5v0.5h-0.5zM859 159.5h3v0.5h-3zM864.5 159.5h1.5v0.5h-1.5zM872 159.5h1v0.5h-1zM880 159.5h0.5v0.5h-0.5zM887.5 159.5h0.5v0.5h-0.5zM909 159.5h1.5v0.5h-1.5zM924 159.5h1.5v0.5h-1.5zM927 159.5h2.5v0.5h-2.5zM930 159.5h0.5v0.5h-0.5zM859.5 160h2.5v0.5h-2.5zM864.5 160h1.5v0.5h-1.5zM872 160h1.5v0.5h-1.5zM880 160h0.5v0.5h-0.5zM887.5 160h0.5v0.5h-0.5zM909 160h1.5v0.5h-1.5zM924 160h2v0.5h-2zM927 160h2.5v0.5h-2.5zM930 160h0.5v0.5h-0.5zM844.5 160.5h0.5v0.5h-0.5zM860.5 160.5h1v0.5h-1zM864.5 160.5h1.5v0.5h-1.5zM871.5 160.5h2v0.5h-2zM876.5 160.5h0.5v0.5h-0.5zM880 160.5h1v0.5h-1zM887 160.5h1.5v0.5h-1.5zM909 160.5h1.5v0.5h-1.5zM914.5 160.5h0.5v0.5h-0.5zM923.5 160.5h2.5v0.5h-2.5zM927 160.5h3.5v0.5h-3.5zM860.5 161h0.5v0.5h-0.5zM864.5 161h2v0.5h-2zM871.5 161h2v0.5h-2zM876.5 161h0.5v0.5h-0.5zM880 161h1v0.5h-1zM887 161h1.5v0.5h-1.5zM906.5 161h0.5v0.5h-0.5zM914.5 161h0.5v0.5h-0.5zM923.5 161h2.5v0.5h-2.5zM927 161h3.5v0.5h-3.5zM864.5 161.5h2v0.5h-2zM871.5 161.5h2v0.5h-2zM876.5 161.5h0.5v0.5h-0.5zM880 161.5h1v0.5h-1zM887 161.5h1.5v0.5h-1.5zM906.5 161.5h0.5v0.5h-0.5zM914.5 161.5h1.5v0.5h-1.5zM923.5 161.5h2.5v0.5h-2.5zM927 161.5h3.5v0.5h-3.5zM864.5 162h2v0.5h-2zM871.5 162h2v0.5h-2zM876.5 162h0.5v0.5h-0.5zM880 162h1v0.5h-1zM887 162h1.5v0.5h-1.5zM906 162h1v0.5h-1zM914.5 162h2v0.5h-2zM924 162h1.5v0.5h-1.5zM927 162h3.5v0.5h-3.5zM864.5 162.5h2v0.5h-2zM871.5 162.5h2v0.5h-2zM880 162.5h0.5v0.5h-0.5zM887.5 162.5h1v0.5h-1zM906 162.5h1v0.5h-1zM914.5 162.5h2v0.5h-2zM924 162.5h1.5v0.5h-1.5zM927.5 162.5h3v0.5h-3zM850 163h0.5v0.5h-0.5zM864.5 163h2v0.5h-2zM872 163h1.5v0.5h-1.5zM880 163h0.5v0.5h-0.5zM887.5 163h1v0.5h-1zM906 163h1v0.5h-1zM914.5 163h2v0.5h-2zM924 163h1.5v0.5h-1.5zM927.5 163h3v0.5h-3zM850 163.5h0.5v0.5h-0.5zM858 163.5h0.5v0.5h-0.5zM860.5 163.5h0.5v0.5h-0.5zM864 163.5h2.5v0.5h-2.5zM872 163.5h1v0.5h-1zM880 163.5h0.5v0.5h-0.5zM888 163.5h0.5v0.5h-0.5zM906 163.5h1v0.5h-1zM914.5 163.5h2v0.5h-2zM924 163.5h1.5v0.5h-1.5zM927.5 163.5h3v0.5h-3zM849.5 164h1v0.5h-1zM858 164h1v0.5h-1zM860.5 164h0.5v0.5h-0.5zM864 164h1.5v0.5h-1.5zM872 164h1v0.5h-1zM906 164h1v0.5h-1zM914.5 164h2v0.5h-2zM924 164h1.5v0.5h-1.5zM927.5 164h3.5v0.5h-3.5zM849.5 164.5h1v0.5h-1zM857.5 164.5h1.5v0.5h-1.5zM860.5 164.5h0.5v0.5h-0.5zM864 164.5h1.5v0.5h-1.5zM872 164.5h1v0.5h-1zM882.5 164.5h0.5v0.5h-0.5zM906 164.5h1v0.5h-1zM914.5 164.5h0.5v0.5h-0.5zM915.5 164.5h0.5v0.5h-0.5zM924 164.5h1v0.5h-1zM928 164.5h3.5v0.5h-3.5zM849.5 165h1v0.5h-1zM858.5 165h0.5v0.5h-0.5zM860 165h1v0.5h-1zM863.5 165h2v0.5h-2zM882.5 165h0.5v0.5h-0.5zM924 165h1v0.5h-1zM928 165h3.5v0.5h-3.5zM850 165.5h0.5v0.5h-0.5zM857 165.5h0.5v0.5h-0.5zM858.5 165.5h0.5v0.5h-0.5zM860 165.5h1v0.5h-1zM863.5 165.5h2v0.5h-2zM882 165.5h1v0.5h-1zM899 165.5h1v0.5h-1zM924 165.5h1v0.5h-1zM928 165.5h4v0.5h-4zM860 166h1.5v0.5h-1.5zM864 166h1v0.5h-1zM882 166h1v0.5h-1zM899 166h1v0.5h-1zM924 166h1.5v0.5h-1.5zM926 166h0.5v0.5h-0.5zM928 166h4v0.5h-4zM860 166.5h1.5v0.5h-1.5zM864 166.5h1v0.5h-1zM882 166.5h1v0.5h-1zM899 166.5h1v0.5h-1zM924 166.5h2.5v0.5h-2.5zM928 166.5h4v0.5h-4zM841 167h0.5v0.5h-0.5zM844.5 167h0.5v0.5h-0.5zM859 167h2.5v0.5h-2.5zM877.5 167h0.5v0.5h-0.5zM882 167h1v0.5h-1zM889.5 167h1v0.5h-1zM899 167h1v0.5h-1zM923.5 167h3v0.5h-3zM928.5 167h3.5v0.5h-3.5zM840.5 167.5h1v0.5h-1zM844 167.5h1v0.5h-1zM859 167.5h2.5v0.5h-2.5zM877.5 167.5h1v0.5h-1zM882 167.5h1v0.5h-1zM889.5 167.5h1v0.5h-1zM899 167.5h1v0.5h-1zM923.5 167.5h2.5v0.5h-2.5zM928.5 167.5h1v0.5h-1zM930 167.5h2v0.5h-2zM840.5 168h1v0.5h-1zM844 168h1v0.5h-1zM854 168h1v0.5h-1zM859 168h2.5v0.5h-2.5zM877 168h1.5v0.5h-1.5zM882 168h1v0.5h-1zM885 168h0.5v0.5h-0.5zM889.5 168h1v0.5h-1zM899 168h1v0.5h-1zM923.5 168h2.5v0.5h-2.5zM928.5 168h1v0.5h-1zM930 168h1.5v0.5h-1.5zM840.5 168.5h1v0.5h-1zM854 168.5h1v0.5h-1zM859 168.5h2.5v0.5h-2.5zM877 168.5h2v0.5h-2zM882 168.5h0.5v0.5h-0.5zM885 168.5h0.5v0.5h-0.5zM889.5 168.5h1v0.5h-1zM899 168.5h1.5v0.5h-1.5zM922.5 168.5h3.5v0.5h-3.5zM928.5 168.5h1v0.5h-1zM930 168.5h0.5v0.5h-0.5zM841 169h0.5v0.5h-0.5zM854 169h1v0.5h-1zM858.5 169h1.5v0.5h-1.5zM877 169h2v0.5h-2zM884.5 169h1.5v0.5h-1.5zM889.5 169h1v0.5h-1zM899 169h1.5v0.5h-1.5zM922.5 169h3.5v0.5h-3.5zM930 169h0.5v0.5h-0.5zM841 169.5h0.5v0.5h-0.5zM854 169.5h1.5v0.5h-1.5zM858.5 169.5h1.5v0.5h-1.5zM877 169.5h2v0.5h-2zM884.5 169.5h1.5v0.5h-1.5zM889.5 169.5h1v0.5h-1zM899.5 169.5h1v0.5h-1zM922.5 169.5h3v0.5h-3zM930 169.5h0.5v0.5h-0.5zM854 170h1.5v0.5h-1.5zM859 170h0.5v0.5h-0.5zM877 170h2v0.5h-2zM884.5 170h1v0.5h-1zM889.5 170h1v0.5h-1zM897 170h0.5v0.5h-0.5zM899.5 170h0.5v0.5h-0.5zM920 170h1v0.5h-1zM922.5 170h1v0.5h-1zM924 170h1.5v0.5h-1.5zM930 170h0.5v0.5h-0.5zM933 170h1v0.5h-1zM854.5 170.5h1v0.5h-1zM859 170.5h0.5v0.5h-0.5zM877 170.5h2v0.5h-2zM884.5 170.5h1v0.5h-1zM889.5 170.5h1v0.5h-1zM897 170.5h0.5v0.5h-0.5zM919.5 170.5h1.5v0.5h-1.5zM922.5 170.5h1v0.5h-1zM924.5 170.5h1v0.5h-1zM930 170.5h0.5v0.5h-0.5zM933 170.5h1v0.5h-1zM854.5 171h1v0.5h-1zM877 171h2v0.5h-2zM884.5 171h1v0.5h-1zM889.5 171h1v0.5h-1zM897 171h0.5v0.5h-0.5zM919.5 171h1.5v0.5h-1.5zM922.5 171h1v0.5h-1zM924.5 171h1v0.5h-1zM930 171h0.5v0.5h-0.5zM933 171h1v0.5h-1zM855 171.5h0.5v0.5h-0.5zM877 171.5h1.5v0.5h-1.5zM889.5 171.5h1v0.5h-1zM897 171.5h0.5v0.5h-0.5zM919.5 171.5h1.5v0.5h-1.5zM922.5 171.5h0.5v0.5h-0.5zM924.5 171.5h1v0.5h-1zM930 171.5h1v0.5h-1zM933 171.5h1v0.5h-1zM853 172h0.5v0.5h-0.5zM877.5 172h1v0.5h-1zM897 172h0.5v0.5h-0.5zM919.5 172h1.5v0.5h-1.5zM924.5 172h1v0.5h-1zM930 172h1v0.5h-1zM933 172h1v0.5h-1zM853 172.5h0.5v0.5h-0.5zM877 172.5h1.5v0.5h-1.5zM919.5 172.5h1.5v0.5h-1.5zM930 172.5h1.5v0.5h-1.5zM932.5 172.5h1.5v0.5h-1.5zM853 173h0.5v0.5h-0.5zM861.5 173h1v0.5h-1zM877 173h1.5v0.5h-1.5zM901 173h0.5v0.5h-0.5zM919.5 173h1v0.5h-1zM930.5 173h1v0.5h-1zM932.5 173h1.5v0.5h-1.5zM850 173.5h0.5v0.5h-0.5zM860.5 173.5h2v0.5h-2zM877 173.5h1.5v0.5h-1.5zM901 173.5h0.5v0.5h-0.5zM919.5 173.5h1v0.5h-1zM930.5 173.5h1.5v0.5h-1.5zM933 173.5h1v0.5h-1zM860.5 174h2v0.5h-2zM877 174h2.5v0.5h-2.5zM901 174h1v0.5h-1zM919.5 174h1v0.5h-1zM930 174h2v0.5h-2zM933 174h1v0.5h-1zM860.5 174.5h2.5v0.5h-2.5zM877 174.5h2.5v0.5h-2.5zM901 174.5h1v0.5h-1zM919.5 174.5h1v0.5h-1zM930 174.5h2v0.5h-2zM933 174.5h1v0.5h-1zM861 175h2v0.5h-2zM877 175h3v0.5h-3zM901 175h1v0.5h-1zM907.5 175h0.5v0.5h-0.5zM919.5 175h1v0.5h-1zM930 175h2v0.5h-2zM933.5 175h0.5v0.5h-0.5zM861 175.5h2v0.5h-2zM877 175.5h3v0.5h-3zM894.5 175.5h0.5v0.5h-0.5zM901 175.5h1v0.5h-1zM907.5 175.5h1v0.5h-1zM919.5 175.5h1v0.5h-1zM927 175.5h0.5v0.5h-0.5zM930 175.5h1.5v0.5h-1.5zM933.5 175.5h0.5v0.5h-0.5zM861.5 176h1.5v0.5h-1.5zM877 176h3v0.5h-3zM894.5 176h0.5v0.5h-0.5zM901 176h1v0.5h-1zM907.5 176h1v0.5h-1zM919.5 176h1v0.5h-1zM923.5 176h0.5v0.5h-0.5zM926.5 176h1.5v0.5h-1.5zM930 176h1v0.5h-1zM856.5 176.5h0.5v0.5h-0.5zM861.5 176.5h1.5v0.5h-1.5zM877.5 176.5h2.5v0.5h-2.5zM901.5 176.5h0.5v0.5h-0.5zM907.5 176.5h1v0.5h-1zM919.5 176.5h0.5v0.5h-0.5zM923.5 176.5h0.5v0.5h-0.5zM925.5 176.5h2.5v0.5h-2.5zM930 176.5h1v0.5h-1zM855 177h0.5v0.5h-0.5zM857 177h0.5v0.5h-0.5zM861.5 177h1.5v0.5h-1.5zM877.5 177h2.5v0.5h-2.5zM901.5 177h0.5v0.5h-0.5zM907.5 177h1v0.5h-1zM923.5 177h0.5v0.5h-0.5zM925.5 177h2.5v0.5h-2.5zM930 177h0.5v0.5h-0.5zM854.5 177.5h1v0.5h-1zM857 177.5h0.5v0.5h-0.5zM861.5 177.5h1v0.5h-1zM877.5 177.5h1v0.5h-1zM879 177.5h0.5v0.5h-0.5zM908 177.5h0.5v0.5h-0.5zM923 177.5h1v0.5h-1zM925.5 177.5h2.5v0.5h-2.5zM930 177.5h0.5v0.5h-0.5zM854.5 178h1v0.5h-1zM861.5 178h1v0.5h-1zM865 178h0.5v0.5h-0.5zM878 178h0.5v0.5h-0.5zM923 178h1v0.5h-1zM925.5 178h2.5v0.5h-2.5zM929.5 178h1v0.5h-1zM865 178.5h1v0.5h-1zM913.5 178.5h0.5v0.5h-0.5zM923 178.5h1.5v0.5h-1.5zM925 178.5h3v0.5h-3zM929.5 178.5h1v0.5h-1zM865 179h1v0.5h-1zM883.5 179h0.5v0.5h-0.5zM913.5 179h0.5v0.5h-0.5zM923 179h1.5v0.5h-1.5zM925 179h3v0.5h-3zM929.5 179h1v0.5h-1zM865 179.5h1v0.5h-1zM883.5 179.5h0.5v0.5h-0.5zM913.5 179.5h1v0.5h-1zM923 179.5h1.5v0.5h-1.5zM925 179.5h3v0.5h-3zM929.5 179.5h0.5v0.5h-0.5zM860.5 180h0.5v0.5h-0.5zM865 180h1v0.5h-1zM913.5 180h1v0.5h-1zM923 180h5v0.5h-5zM860.5 180.5h1v0.5h-1zM865 180.5h1v0.5h-1zM913 180.5h1.5v0.5h-1.5zM923 180.5h5v0.5h-5zM860.5 181h0.5v0.5h-0.5zM865 181h1v0.5h-1zM913 181h1v0.5h-1zM923 181h5v0.5h-5zM839.5 181.5h0.5v0.5h-0.5zM860.5 181.5h0.5v0.5h-0.5zM865 181.5h0.5v0.5h-0.5zM913 181.5h1v0.5h-1zM923 181.5h5v0.5h-5zM860.5 182h0.5v0.5h-0.5zM913.5 182h0.5v0.5h-0.5zM923 182h5v0.5h-5zM884.5 182.5h0.5v0.5h-0.5zM923.5 182.5h4.5v0.5h-4.5zM854 183h1v0.5h-1zM884.5 183h0.5v0.5h-0.5zM923.5 183h3v0.5h-3zM927.5 183h0.5v0.5h-0.5zM854 183.5h1v0.5h-1zM884 183.5h1v0.5h-1zM924 183.5h2v0.5h-2zM927.5 183.5h1v0.5h-1zM853.5 184h1.5v0.5h-1.5zM884 184h1.5v0.5h-1.5zM924 184h1.5v0.5h-1.5zM928 184h0.5v0.5h-0.5zM853.5 184.5h1.5v0.5h-1.5zM884 184.5h1.5v0.5h-1.5zM895.5 184.5h0.5v0.5h-0.5zM928 184.5h1v0.5h-1zM853 185h1.5v0.5h-1.5zM872 185h0.5v0.5h-0.5zM884 185h1.5v0.5h-1.5zM895 185h1.5v0.5h-1.5zM928 185h1v0.5h-1zM853 185.5h1v0.5h-1zM872 185.5h0.5v0.5h-0.5zM884 185.5h1.5v0.5h-1.5zM894.5 185.5h2v0.5h-2zM928 185.5h1v0.5h-1zM853 186h1v0.5h-1zM871.5 186h1v0.5h-1zM884.5 186h1.5v0.5h-1.5zM894.5 186h2v0.5h-2zM928 186h1v0.5h-1zM853 186.5h0.5v0.5h-0.5zM871.5 186.5h1v0.5h-1zM884.5 186.5h1.5v0.5h-1.5zM894.5 186.5h2v0.5h-2zM928 186.5h1v0.5h-1zM932 186.5h0.5v0.5h-0.5zM852.5 187h1v0.5h-1zM871.5 187h1v0.5h-1zM885 187h1v0.5h-1zM894.5 187h2v0.5h-2zM932 187h1v0.5h-1zM852 187.5h1v0.5h-1zM871.5 187.5h1v0.5h-1zM885 187.5h1v0.5h-1zM894.5 187.5h1v0.5h-1zM931.5 187.5h1.5v0.5h-1.5zM852 188h1v0.5h-1zM872 188h0.5v0.5h-0.5zM885 188h1v0.5h-1zM894.5 188h0.5v0.5h-0.5zM931.5 188h1v0.5h-1zM852 188.5h1v0.5h-1zM857.5 188.5h0.5v0.5h-0.5zM872 188.5h0.5v0.5h-0.5zM894.5 188.5h0.5v0.5h-0.5zM904.5 188.5h0.5v0.5h-0.5zM931.5 188.5h1v0.5h-1zM852 189h1v0.5h-1zM857.5 189h0.5v0.5h-0.5zM880 189h0.5v0.5h-0.5zM894.5 189h0.5v0.5h-0.5zM904 189h1v0.5h-1zM931.5 189h1v0.5h-1zM904 189.5h1v0.5h-1zM904 190h1v0.5h-1zM904 190.5h1v0.5h-1zM853 191.5h0.5v0.5h-0.5zM853 192h0.5v0.5h-0.5zM853 192.5h1v0.5h-1zM853 193h1v0.5h-1zM853 193.5h1v0.5h-1zM863.5 193.5h0.5v0.5h-0.5zM843 194h1v0.5h-1zM853 194h1v0.5h-1zM863.5 194h0.5v0.5h-0.5zM843 194.5h1.5v0.5h-1.5zM853 194.5h1v0.5h-1zM863 194.5h1v0.5h-1zM843 195h2v0.5h-2zM853 195h1v0.5h-1zM863 195h1v0.5h-1zM843 195.5h1.5v0.5h-1.5zM853.5 195.5h0.5v0.5h-0.5zM863 195.5h1.5v0.5h-1.5zM843.5 196h0.5v0.5h-0.5zM857.5 196h1.5v0.5h-1.5zM863.5 196h1v0.5h-1zM857.5 196.5h1.5v0.5h-1.5zM931 196.5h0.5v0.5h-0.5zM857 197h2v0.5h-2zM931 197h1v0.5h-1zM933.5 197h0.5v0.5h-0.5zM857 197.5h2v0.5h-2zM931 197.5h1v0.5h-1zM933.5 197.5h0.5v0.5h-0.5z"/><rect x="763.88" y="200" width="1.25" height="2.0" rx="0.57" fill="#000"/><rect x="783.88" y="200" width="1.25" height="2.5" rx="0.57" fill="#000"/><rect x="785.88" y="204" width="1.25" height="2.0" rx="0.57" fill="#333"/><rect x="796.88" y="198" width="1.25" height="9.0" rx="0.57" fill="#000"/><rect x="796.88" y="210.5" width="1.25" height="4.5" rx="0.57" fill="#000"/><rect x="796.88" y="218.8" width="1.25" height="2.6" rx="0.57" fill="#000"/><rect x="796.88" y="224.5" width="1.25" height="3.6" rx="0.57" fill="#000"/><rect x="796.88" y="228" width="1.25" height="4.0" rx="0.57" fill="#999"/><rect x="799.88" y="198" width="1.25" height="5.0" rx="0.57" fill="#888"/><rect x="816.88" y="202" width="1.25" height="2.0" rx="0.57" fill="#444"/><rect x="816.88" y="212.5" width="1.25" height="2.0" rx="0.57" fill="#444"/><rect x="816.88" y="243" width="1.25" height="2.0" rx="0.57" fill="#444"/><rect x="784.88" y="228" width="1.25" height="2.0" rx="0.57" fill="#444"/><rect x="795.88" y="243.5" width="1.25" height="2.5" rx="0.57" fill="#000"/><rect x="835.88" y="213" width="1.25" height="2.0" rx="0.57" fill="#000"/><rect x="835.88" y="226.5" width="1.25" height="2.0" rx="0.57" fill="#000"/><rect x="844.88" y="207" width="1.25" height="3.0" rx="0.57" fill="#000"/><rect x="844.88" y="222" width="1.25" height="3.0" rx="0.57" fill="#000"/><rect x="844.88" y="233.5" width="1.25" height="6.5" rx="0.57" fill="#000"/><rect x="848.88" y="239.5" width="1.25" height="7.3" rx="0.57" fill="#000"/><rect x="852.88" y="201" width="1.25" height="3.0" rx="0.57" fill="#000"/><rect x="852.88" y="206" width="1.25" height="5.0" rx="0.57" fill="#000"/><rect x="852.88" y="219" width="1.25" height="2.0" rx="0.57" fill="#000"/><rect x="855.88" y="204" width="1.25" height="2.0" rx="0.57" fill="#000"/><rect x="857.88" y="213.5" width="1.25" height="2.0" rx="0.57" fill="#000"/><rect x="857.88" y="235.5" width="1.25" height="2.5" rx="0.57" fill="#000"/><rect x="860.88" y="198" width="1.25" height="2.0" rx="0.57" fill="#000"/><rect x="860.88" y="202" width="1.25" height="11.0" rx="0.57" fill="#000"/><rect x="860.88" y="219" width="1.25" height="5.0" rx="0.57" fill="#000"/><rect x="860.88" y="226" width="1.25" height="7.0" rx="0.57" fill="#000"/><rect x="864.88" y="211" width="1.25" height="21.0" rx="0.57" fill="#999"/><rect x="868.88" y="210" width="1.25" height="2.0" rx="0.57" fill="#000"/><rect x="876.88" y="200" width="1.25" height="17.0" rx="0.57" fill="#999"/><rect x="874.88" y="205" width="1.25" height="2.0" rx="0.57" fill="#999"/><rect x="903.88" y="206" width="1.25" height="2.0" rx="0.57" fill="#222"/><rect x="908.88" y="204" width="1.25" height="2.0" rx="0.57" fill="#222"/><rect x="908.88" y="212.6" width="1.25" height="2.0" rx="0.57" fill="#222"/><rect x="898.88" y="215" width="1.25" height="2.0" rx="0.57" fill="#aaa"/><rect x="916.88" y="198" width="1.25" height="4.0" rx="0.57" fill="#000"/><rect x="916.88" y="213.6" width="1.25" height="2.0" rx="0.57" fill="#000"/><rect x="916.88" y="226" width="1.25" height="7.0" rx="0.57" fill="#000"/><rect x="916.88" y="241" width="1.25" height="6.0" rx="0.57" fill="#000"/><rect x="919.88" y="226" width="1.25" height="7.0" rx="0.57" fill="#000"/><rect x="923.88" y="198" width="1.25" height="5.0" rx="0.57" fill="#000"/><rect x="923.88" y="213" width="1.25" height="2.0" rx="0.57" fill="#000"/><rect x="923.88" y="228" width="1.25" height="5.0" rx="0.57" fill="#000"/><rect x="925.88" y="226" width="1.25" height="7.0" rx="0.57" fill="#000"/><rect x="927.88" y="202" width="1.25" height="10.0" rx="0.57" fill="#000"/><rect x="926.88" y="204" width="1.25" height="4.0" rx="0.57" fill="#000"/><rect x="927.88" y="218" width="1.25" height="6.0" rx="0.57" fill="#000"/><rect x="927.88" y="236" width="1.25" height="2.0" rx="0.57" fill="#000"/><rect x="796.88" y="250" width="1.25" height="2.5" rx="0.57" fill="#000"/><rect x="784.88" y="260.5" width="1.25" height="4.0" rx="0.57" fill="#000"/><rect x="795.88" y="244" width="1.25" height="2.0" rx="0.57" fill="#888"/><rect x="848.88" y="245" width="1.25" height="2.0" rx="0.57" fill="#aaa"/><rect x="857.88" y="256.5" width="1.25" height="2.0" rx="0.57" fill="#000"/><rect x="857.88" y="266.5" width="1.25" height="2.0" rx="0.57" fill="#000"/><rect x="860.88" y="272.5" width="1.25" height="3.0" rx="0.57" fill="#555"/><rect x="857.88" y="282" width="1.25" height="2.0" rx="0.57" fill="#000"/><rect x="860.88" y="278.5" width="1.25" height="3.5" rx="0.57" fill="#000"/><rect x="835.88" y="272" width="1.25" height="2.0" rx="0.57" fill="#000"/><rect x="835.88" y="284" width="1.25" height="9.0" rx="0.57" fill="#aaa"/><rect x="877.88" y="291" width="1.25" height="2.0" rx="0.57" fill="#666"/><rect x="916.88" y="244" width="1.25" height="4.0" rx="0.57" fill="#000"/><rect x="916.88" y="257" width="1.25" height="7.0" rx="0.57" fill="#000"/><rect x="916.88" y="272" width="1.25" height="2.0" rx="0.57" fill="#000"/><rect x="916.88" y="278" width="1.25" height="6.0" rx="0.57" fill="#777"/><rect x="923.88" y="274" width="1.25" height="2.0" rx="0.57" fill="#000"/><rect x="928.88" y="273" width="1.25" height="3.0" rx="0.57" fill="#555"/><rect x="860.88" y="304" width="1.25" height="4.0" rx="0.57" fill="#000"/><rect x="860.88" y="310" width="1.25" height="5.0" rx="0.57" fill="#222"/><rect x="860.88" y="318" width="1.25" height="5.0" rx="0.57" fill="#000"/><rect x="860.88" y="325" width="1.25" height="4.5" rx="0.57" fill="#222"/><rect x="857.88" y="305" width="1.25" height="4.0" rx="0.57" fill="#333"/><rect x="857.88" y="312" width="1.25" height="6.0" rx="0.57" fill="#333"/><rect x="857.88" y="320" width="1.25" height="2.0" rx="0.57" fill="#333"/><rect x="860.88" y="345.7" width="1.25" height="4.3" rx="0.57" fill="#222"/><rect x="860.88" y="356" width="1.25" height="4.0" rx="0.57" fill="#444"/><rect x="860.88" y="362.6" width="1.25" height="10.4" rx="0.57" fill="#000"/><rect x="857.88" y="365" width="1.25" height="4.0" rx="0.57" fill="#222"/><rect x="858.88" y="369" width="1.25" height="3.0" rx="0.57" fill="#222"/><rect x="835.88" y="321.6" width="1.25" height="2.0" rx="0.57" fill="#000"/><rect x="880.88" y="326" width="1.25" height="2.0" rx="0.57" fill="#000"/><rect x="916.88" y="304" width="1.25" height="3.0" rx="0.57" fill="#333"/><rect x="916.88" y="314" width="1.25" height="2.0" rx="0.57" fill="#000"/><rect x="916.88" y="324" width="1.25" height="3.0" rx="0.57" fill="#000"/><rect x="916.88" y="332" width="1.25" height="8.0" rx="0.57" fill="#777"/><rect x="916.88" y="348" width="1.25" height="10.0" rx="0.57" fill="#444"/><rect x="916.88" y="362" width="1.25" height="6.0" rx="0.57" fill="#000"/><rect x="923.88" y="295" width="1.25" height="2.0" rx="0.57" fill="#000"/><rect x="923.88" y="308" width="1.25" height="9.0" rx="0.57" fill="#555"/><rect x="923.88" y="326" width="1.25" height="2.0" rx="0.57" fill="#000"/><rect x="923.88" y="350" width="1.25" height="2.0" rx="0.57" fill="#000"/><rect x="923.88" y="356" width="1.25" height="2.0" rx="0.57" fill="#333"/><rect x="925.88" y="363" width="1.25" height="2.0" rx="0.57" fill="#333"/><rect x="923.88" y="367" width="1.25" height="2.0" rx="0.57" fill="#333"/><rect x="926.88" y="357" width="1.25" height="3.0" rx="0.57" fill="#333"/><rect x="926.88" y="372" width="1.25" height="3.0" rx="0.57" fill="#000"/><rect x="816.88" y="316.8" width="1.25" height="2.0" rx="0.57" fill="#222"/><rect x="761.88" y="373" width="1.25" height="2.0" rx="0.57" fill="#aaa"/><rect x="860.88" y="376.3" width="1.25" height="3.7" rx="0.57" fill="#555"/><rect x="860.88" y="381" width="1.25" height="9.0" rx="0.57" fill="#333"/><rect x="860.88" y="392" width="1.25" height="5.0" rx="0.57" fill="#333"/><rect x="852.88" y="387" width="1.25" height="4.0" rx="0.57" fill="#000"/><rect x="857.88" y="404" width="1.25" height="2.0" rx="0.57" fill="#000"/><rect x="857.88" y="437" width="1.25" height="4.0" rx="0.57" fill="#000"/><rect x="857.88" y="443" width="1.25" height="2.0" rx="0.57" fill="#000"/><rect x="859.88" y="446" width="1.25" height="2.0" rx="0.57" fill="#666"/><rect x="860.88" y="415" width="1.25" height="5.0" rx="0.57" fill="#444"/><rect x="859.88" y="420" width="1.25" height="3.0" rx="0.57" fill="#444"/><rect x="844.88" y="413" width="1.25" height="2.0" rx="0.57" fill="#000"/><rect x="916.88" y="376" width="1.25" height="4.0" rx="0.57" fill="#444"/><rect x="916.88" y="385" width="1.25" height="5.0" rx="0.57" fill="#555"/><rect x="916.88" y="394" width="1.25" height="4.0" rx="0.57" fill="#444"/><rect x="916.88" y="408" width="1.25" height="8.0" rx="0.57" fill="#000"/><rect x="916.88" y="423" width="1.25" height="2.0" rx="0.57" fill="#000"/><rect x="916.88" y="428" width="1.25" height="6.0" rx="0.57" fill="#555"/><rect x="923.88" y="378" width="1.25" height="11.0" rx="0.57" fill="#999"/><rect x="923.88" y="393" width="1.25" height="6.0" rx="0.57" fill="#000"/><rect x="923.88" y="413" width="1.25" height="2.0" rx="0.57" fill="#000"/><rect x="926.88" y="374" width="1.25" height="2.0" rx="0.57" fill="#000"/><rect x="923.88" y="453" width="1.25" height="2.0" rx="0.57" fill="#555"/><rect x="762.88" y="375" width="1.25" height="2.5" rx="0.57" fill="#666"/><rect x="799.88" y="391" width="1.25" height="2.0" rx="0.57" fill="#666"/><rect x="745.88" y="404" width="1.25" height="3.0" rx="0.57" fill="#888"/><rect x="746.88" y="412.5" width="1.25" height="1.5" rx="0.57" fill="#666"/><rect x="799.88" y="453" width="1.25" height="2.0" rx="0.57" fill="#000"/><rect x="923.88" y="455" width="1.25" height="7.0" rx="0.57" fill="#000"/><rect x="860.88" y="474" width="1.25" height="3.0" rx="0.57" fill="#333"/><rect x="916.88" y="515" width="1.25" height="7.0" rx="0.57" fill="#666"/><rect x="916.88" y="523" width="1.25" height="7.0" rx="0.57" fill="#666"/><rect x="923.88" y="521" width="1.25" height="2.0" rx="0.57" fill="#000"/><rect x="745.88" y="459" width="1.25" height="8.0" rx="0.57" fill="#888"/><rect x="762.88" y="489" width="1.25" height="6.0" rx="0.57" fill="#777"/><rect x="762.88" y="502" width="1.25" height="4.0" rx="0.57" fill="#777"/><rect x="761.88" y="513" width="1.25" height="6.0" rx="0.57" fill="#999"/><rect x="745.88" y="505" width="1.25" height="3.0" rx="0.57" fill="#888"/><rect x="745.88" y="517" width="1.25" height="2.0" rx="0.57" fill="#888"/><rect x="745.88" y="525" width="1.25" height="2.0" rx="0.57" fill="#888"/><rect x="799.88" y="455" width="1.25" height="2.0" rx="0.57" fill="#aaa"/><rect x="799.88" y="521" width="1.25" height="2.0" rx="0.57" fill="#888"/><rect x="709.88" y="101.6" width="1.25" height="2.0" rx="0.57" fill="#888"/><rect x="733.88" y="110.5" width="1.25" height="2.0" rx="0.57" fill="#666"/><rect x="720.88" y="139" width="1.25" height="2.0" rx="0.57" fill="#888"/><rect x="728.88" y="147" width="1.25" height="4.0" rx="0.57" fill="#555"/><rect x="121.35" y="528.3" width="1.3" height="2.0" fill="#5f5"/><rect x="129.35" y="519.5" width="1.3" height="2.0" fill="#5f5"/><rect x="172.95" y="519.5" width="1.3" height="2.0" fill="#5f5"/><rect x="181.65" y="513" width="1.3" height="3.0" fill="#5f5"/><rect x="181.65" y="518" width="1.3" height="10.0" fill="#5f5"/><rect x="190.75" y="525.6" width="1.3" height="2.0" fill="#5f5"/><rect x="218.65" y="521.6" width="1.3" height="2.0" fill="#5f5"/><rect x="484.95" y="526.4" width="1.3" height="2.0" fill="#5f5"/><rect x="563.55" y="526.2" width="1.3" height="2.0" fill="#5f5"/><rect x="601.75" y="526.1" width="1.3" height="2.0" fill="#5f5"/><rect x="756.75" y="527.5" width="1.3" height="2.0" fill="#5f5"/><rect x="762.88" y="102.9" width="1.25" height="5.7" rx="0.57" fill="#000"/><rect x="762.88" y="115" width="1.25" height="9.8" rx="0.57" fill="#000"/><rect x="762.88" y="129.7" width="1.25" height="4.9" rx="0.57" fill="#888"/><rect x="762.88" y="137" width="1.25" height="9.0" rx="0.57" fill="#bbb"/><rect x="758.88" y="102" width="1.25" height="3.0" rx="0.57" fill="#888"/><rect x="767.88" y="103" width="1.25" height="5.0" rx="0.57" fill="#000"/><rect x="767.88" y="112.6" width="1.25" height="10.6" rx="0.57" fill="#888"/><rect x="771.44" y="100.4" width="2.12" height="8.2" rx="0.97" fill="#000"/><rect x="771.88" y="113" width="1.25" height="1.5" rx="0.57" fill="#000"/><rect x="774.88" y="100.4" width="1.25" height="5.6" rx="0.57" fill="#000"/><rect x="774.88" y="117.5" width="1.25" height="4.9" rx="0.57" fill="#000"/><rect x="774.88" y="135.4" width="1.25" height="12.2" rx="0.57" fill="#000"/><rect x="769.88" y="141" width="1.25" height="2.0" rx="0.57" fill="#000"/><rect x="782.88" y="111" width="1.25" height="3.3" rx="0.57" fill="#000"/><rect x="782.88" y="117.5" width="1.25" height="1.5" rx="0.57" fill="#000"/><rect x="782.88" y="128.9" width="1.25" height="3.2" rx="0.57" fill="#000"/><rect x="782.88" y="137" width="1.25" height="3.3" rx="0.57" fill="#000"/><rect x="785.88" y="102" width="1.25" height="3.3" rx="0.57" fill="#000"/><rect x="789.88" y="117.5" width="1.25" height="7.3" rx="0.57" fill="#000"/><rect x="791.88" y="112.5" width="1.25" height="1.5" rx="0.57" fill="#000"/><rect x="796.88" y="100.4" width="1.25" height="11.6" rx="0.57" fill="#000"/><rect x="796.88" y="116.7" width="1.25" height="12.2" rx="0.57" fill="#000"/><rect x="796.85" y="132" width="1.70" height="8.3" rx="0.77" fill="#000"/><rect x="796.64" y="143.5" width="2.12" height="4.5" rx="0.97" fill="#000"/><rect x="753.88" y="128" width="1.25" height="2.0" rx="0.57" fill="#000"/><rect x="746.88" y="128" width="1.25" height="3.3" rx="0.57" fill="#888"/><rect x="746.88" y="135.4" width="1.25" height="5.7" rx="0.57" fill="#888"/><rect x="746.88" y="146" width="1.25" height="2.0" rx="0.57" fill="#888"/><rect x="742.73" y="100.5" width="2.55" height="1.5" rx="0.68" fill="#888"/><rect x="799.84" y="105.3" width="2.12" height="4.9" rx="0.97" fill="#000"/><rect x="802.88" y="108.7" width="1.25" height="3.9" rx="0.57" fill="#000"/><rect x="804.15" y="113.5" width="1.70" height="1.5" rx="0.68" fill="#000"/><rect x="812.88" y="100.4" width="1.25" height="5.9" rx="0.57" fill="#000"/><rect x="816.88" y="108" width="1.25" height="4.0" rx="0.57" fill="#888"/><rect x="816.88" y="112" width="1.25" height="1.5" rx="0.57" fill="#000"/><rect x="824.88" y="102" width="1.25" height="1.5" rx="0.57" fill="#000"/><rect x="827.88" y="108.7" width="1.25" height="1.3" rx="0.57" fill="#888"/><rect x="827.85" y="112" width="1.70" height="5.0" rx="0.77" fill="#000"/><rect x="831.88" y="103" width="1.25" height="2.0" rx="0.57" fill="#888"/><rect x="831.88" y="106.5" width="1.25" height="2.5" rx="0.57" fill="#000"/><rect x="794.88" y="117.5" width="1.25" height="2.5" rx="0.57" fill="#000"/><rect x="799.88" y="115.5" width="1.25" height="12.5" rx="0.57" fill="#000"/><rect x="802.88" y="121" width="1.25" height="7.0" rx="0.57" fill="#888"/><rect x="812.88" y="119" width="1.25" height="6.0" rx="0.57" fill="#000"/><rect x="816.88" y="117" width="1.25" height="11.0" rx="0.57" fill="#000"/><rect x="819.88" y="124" width="1.25" height="4.0" rx="0.57" fill="#000"/><rect x="796.94" y="132" width="2.12" height="8.5" rx="0.97" fill="#000"/><rect x="799.88" y="136" width="1.25" height="8.0" rx="0.57" fill="#000"/><rect x="798.01" y="143" width="2.98" height="6.0" rx="1.35" fill="#000"/><rect x="796.88" y="150" width="1.25" height="10.0" rx="0.57" fill="#000"/><rect x="800.88" y="150" width="1.25" height="2.0" rx="0.57" fill="#000"/><rect x="799.88" y="152" width="1.25" height="4.0" rx="0.57" fill="#888"/><rect x="806.88" y="130.8" width="1.25" height="1.5" rx="0.57" fill="#000"/><rect x="803.88" y="137.3" width="1.25" height="1.5" rx="0.57" fill="#000"/><rect x="805.88" y="141" width="1.25" height="2.0" rx="0.57" fill="#000"/><rect x="812.88" y="126.5" width="1.25" height="5.5" rx="0.57" fill="#000"/><rect x="812.88" y="139" width="1.25" height="4.0" rx="0.57" fill="#888"/><rect x="816.88" y="125" width="1.25" height="5.0" rx="0.57" fill="#888"/><rect x="817.94" y="134.5" width="2.12" height="6.0" rx="0.97" fill="#000"/><rect x="816.88" y="141" width="1.25" height="6.0" rx="0.57" fill="#888"/><rect x="830.88" y="132" width="1.25" height="4.5" rx="0.57" fill="#000"/><rect x="828.88" y="143" width="1.25" height="7.0" rx="0.57" fill="#bbb"/><rect x="831.88" y="150" width="1.25" height="3.0" rx="0.57" fill="#000"/><rect x="834.88" y="126" width="1.25" height="5.0" rx="0.57" fill="#000"/><rect x="837.88" y="125" width="1.25" height="2.0" rx="0.57" fill="#000"/><rect x="834.88" y="137" width="1.25" height="6.0" rx="0.57" fill="#000"/><rect x="837.88" y="139" width="1.25" height="3.0" rx="0.57" fill="#000"/><rect x="834.88" y="146" width="1.25" height="3.0" rx="0.57" fill="#000"/><rect x="837.88" y="146" width="1.25" height="5.0" rx="0.57" fill="#000"/><rect x="834.88" y="156" width="1.25" height="4.0" rx="0.57" fill="#000"/><rect x="838.88" y="157" width="1.25" height="1.0" rx="0.45" fill="#888"/><rect x="842.88" y="127" width="1.25" height="5.0" rx="0.57" fill="#000"/><rect x="845.88" y="127" width="1.25" height="3.0" rx="0.57" fill="#000"/><rect x="842.75" y="134" width="1.70" height="5.0" rx="0.77" fill="#000"/><rect x="846.88" y="134" width="1.25" height="2.0" rx="0.57" fill="#888"/><rect x="843.44" y="146.5" width="2.12" height="6.5" rx="0.97" fill="#000"/><rect x="848.88" y="147.5" width="1.25" height="1.5" rx="0.57" fill="#888"/><rect x="849.88" y="140.7" width="1.25" height="1.6" rx="0.57" fill="#000"/><rect x="845.88" y="157" width="1.25" height="3.0" rx="0.57" fill="#000"/><rect x="852.54" y="126" width="2.12" height="5.0" rx="0.97" fill="#000"/><rect x="851.88" y="130" width="1.25" height="3.0" rx="0.57" fill="#888"/><rect x="852.88" y="135" width="1.25" height="5.0" rx="0.57" fill="#000"/><rect x="852.88" y="144" width="1.25" height="3.0" rx="0.57" fill="#000"/><rect x="852.88" y="148" width="1.25" height="3.0" rx="0.57" fill="#888"/><rect x="852.88" y="153" width="1.25" height="3.0" rx="0.57" fill="#000"/><rect x="834.88" y="103" width="1.25" height="5.0" rx="0.57" fill="#888"/><rect x="835.65" y="107" width="1.70" height="6.0" rx="0.77" fill="#000"/><rect x="841.65" y="101" width="1.70" height="5.0" rx="0.77" fill="#888"/><rect x="843.15" y="104" width="1.70" height="6.0" rx="0.77" fill="#000"/><rect x="845.88" y="101" width="1.25" height="3.0" rx="0.57" fill="#000"/><rect x="853.50" y="100.4" width="3.40" height="3.0" rx="1.36" fill="#000"/><rect x="853.88" y="108.5" width="1.25" height="3.5" rx="0.57" fill="#000"/><rect x="834.88" y="117" width="1.25" height="4.0" rx="0.57" fill="#000"/><rect x="837.88" y="117" width="1.25" height="4.0" rx="0.57" fill="#888"/><rect x="844.23" y="115" width="2.55" height="1.5" rx="0.68" fill="#000"/><rect x="845.88" y="116" width="1.25" height="3.0" rx="0.57" fill="#888"/><rect x="841.88" y="120" width="1.25" height="5.0" rx="0.57" fill="#000"/><rect x="835.88" y="126" width="1.25" height="2.0" rx="0.57" fill="#000"/><rect x="847.88" y="124" width="1.25" height="4.0" rx="0.57" fill="#888"/><rect x="851.65" y="123" width="1.70" height="5.0" rx="0.77" fill="#000"/><rect x="742.88" y="146" width="1.25" height="3.0" rx="0.57" fill="#888"/><rect x="746.88" y="148" width="1.25" height="6.0" rx="0.57" fill="#888"/><rect x="745.88" y="161" width="1.25" height="5.0" rx="0.57" fill="#888"/><rect x="746.88" y="180" width="1.25" height="2.0" rx="0.57" fill="#888"/><rect x="746.88" y="187" width="1.25" height="2.0" rx="0.57" fill="#888"/><rect x="757.88" y="145" width="1.25" height="2.0" rx="0.57" fill="#888"/><rect x="762.88" y="154" width="1.25" height="9.0" rx="0.57" fill="#000"/><rect x="762.64" y="172" width="2.12" height="4.0" rx="0.97" fill="#000"/><rect x="762.88" y="177" width="1.25" height="1.0" rx="0.45" fill="#888"/><rect x="762.88" y="189" width="1.25" height="4.0" rx="0.57" fill="#888"/><rect x="767.88" y="150" width="1.25" height="6.0" rx="0.57" fill="#888"/><rect x="774.88" y="145" width="1.25" height="2.0" rx="0.57" fill="#000"/><rect x="774.88" y="161" width="1.25" height="10.0" rx="0.57" fill="#000"/><rect x="781.88" y="145" width="1.25" height="3.0" rx="0.57" fill="#888"/><rect x="782.88" y="148" width="1.25" height="6.0" rx="0.57" fill="#000"/><rect x="783.88" y="153" width="1.25" height="7.0" rx="0.57" fill="#000"/><rect x="785.88" y="160" width="1.25" height="2.0" rx="0.57" fill="#888"/><rect x="784.88" y="178" width="1.25" height="3.0" rx="0.57" fill="#888"/><rect x="790.88" y="153" width="1.25" height="4.0" rx="0.57" fill="#888"/><rect x="795.88" y="165" width="1.25" height="5.0" rx="0.57" fill="#000"/><rect x="795.88" y="173" width="1.25" height="6.0" rx="0.57" fill="#888"/><rect x="796.15" y="158" width="1.70" height="7.0" rx="0.77" fill="#000"/><rect x="799.65" y="164" width="1.70" height="7.0" rx="0.77" fill="#000"/><rect x="802.88" y="163" width="1.25" height="2.0" rx="0.57" fill="#888"/><rect x="802.88" y="167" width="1.25" height="1.0" rx="0.45" fill="#888"/><rect x="799.95" y="172" width="1.70" height="5.0" rx="0.77" fill="#000"/><rect x="803.88" y="172" width="1.25" height="3.0" rx="0.57" fill="#888"/><rect x="796.88" y="172" width="1.25" height="10.0" rx="0.57" fill="#000"/><rect x="796.88" y="185" width="1.25" height="2.0" rx="0.57" fill="#000"/><rect x="799.88" y="189" width="1.25" height="4.0" rx="0.57" fill="#888"/><rect x="796.88" y="195" width="1.25" height="5.0" rx="0.57" fill="#000"/><rect x="799.88" y="196" width="1.25" height="4.0" rx="0.57" fill="#000"/><rect x="816.88" y="161" width="1.25" height="6.0" rx="0.57" fill="#000"/><rect x="834.88" y="158" width="1.25" height="4.0" rx="0.57" fill="#000"/><rect x="831.88" y="169" width="1.25" height="2.0" rx="0.57" fill="#000"/><rect x="835.88" y="170" width="1.25" height="3.0" rx="0.57" fill="#000"/><rect x="831.88" y="175.5" width="1.25" height="2.0" rx="0.57" fill="#000"/><rect x="835.88" y="178.5" width="1.25" height="1.5" rx="0.57" fill="#000"/><rect x="844.88" y="158" width="1.25" height="4.0" rx="0.57" fill="#000"/><rect x="843.65" y="163" width="1.70" height="3.0" rx="0.77" fill="#000"/><rect x="849.88" y="160" width="1.25" height="4.0" rx="0.57" fill="#000"/><rect x="852.88" y="160" width="1.25" height="5.0" rx="0.57" fill="#000"/><rect x="844.88" y="174" width="1.25" height="4.0" rx="0.57" fill="#000"/><rect x="851.88" y="175" width="1.25" height="2.0" rx="0.57" fill="#000"/><rect x="852.95" y="181" width="1.70" height="4.0" rx="0.77" fill="#000"/><rect x="843.88" y="189" width="1.25" height="4.0" rx="0.57" fill="#000"/><rect x="844.88" y="193" width="1.25" height="2.0" rx="0.57" fill="#888"/><rect x="854.57" y="150" width="1.87" height="6.0" rx="0.85" fill="#000"/><rect x="855.65" y="156" width="1.70" height="7.0" rx="0.77" fill="#000"/><rect x="860.94" y="150" width="2.12" height="10.0" rx="0.97" fill="#000"/><rect x="858.07" y="165" width="1.87" height="11.0" rx="0.85" fill="#000"/><rect x="861.15" y="166" width="1.70" height="9.0" rx="0.77" fill="#000"/><rect x="864.88" y="158" width="1.25" height="20.0" rx="0.57" fill="#888"/><rect x="852.88" y="180" width="1.25" height="5.0" rx="0.57" fill="#000"/><rect x="857.44" y="180" width="2.12" height="2.0" rx="0.91" fill="#000"/><rect x="856.88" y="185" width="1.25" height="2.0" rx="0.57" fill="#000"/><rect x="857.57" y="188" width="1.87" height="12.0" rx="0.85" fill="#000"/><rect x="860.65" y="190" width="1.70" height="9.0" rx="0.77" fill="#000"/><rect x="866.88" y="180" width="1.25" height="4.0" rx="0.57" fill="#000"/><rect x="865.88" y="186.5" width="1.25" height="2.0" rx="0.57" fill="#000"/><rect x="863.88" y="192" width="1.25" height="4.0" rx="0.57" fill="#000"/><rect x="868.65" y="150" width="1.70" height="5.0" rx="0.77" fill="#000"/><rect x="871.88" y="152" width="1.25" height="4.0" rx="0.57" fill="#000"/><rect x="866.88" y="154" width="1.25" height="3.0" rx="0.57" fill="#000"/><rect x="873.88" y="161" width="1.25" height="3.0" rx="0.57" fill="#888"/><rect x="871.65" y="167" width="1.70" height="5.0" rx="0.77" fill="#000"/><rect x="875.65" y="167" width="1.70" height="4.0" rx="0.77" fill="#000"/><rect x="871.88" y="175" width="1.25" height="2.0" rx="0.57" fill="#000"/><rect x="874.88" y="174" width="1.25" height="2.0" rx="0.57" fill="#000"/><rect x="876.15" y="179" width="1.70" height="4.0" rx="0.77" fill="#000"/><rect x="876.88" y="185" width="1.25" height="8.0" rx="0.57" fill="#000"/><rect x="874.88" y="185.5" width="1.25" height="2.0" rx="0.57" fill="#000"/><rect x="885.88" y="150" width="1.25" height="5.0" rx="0.57" fill="#000"/><rect x="883.88" y="152" width="1.25" height="4.0" rx="0.57" fill="#888"/><rect x="882.88" y="155" width="1.25" height="7.0" rx="0.57" fill="#000"/><rect x="886.65" y="158" width="1.70" height="5.0" rx="0.77" fill="#000"/><rect x="889.88" y="156" width="1.25" height="8.0" rx="0.57" fill="#888"/><rect x="884.88" y="167" width="1.25" height="6.0" rx="0.57" fill="#000"/><rect x="889.88" y="169" width="1.25" height="2.0" rx="0.57" fill="#000"/><rect x="887.88" y="178" width="1.25" height="3.0" rx="0.57" fill="#888"/><rect x="889.88" y="192" width="1.25" height="3.0" rx="0.57" fill="#000"/><rect x="899.57" y="150" width="1.87" height="2.0" rx="0.85" fill="#000"/><rect x="904.88" y="150" width="1.25" height="3.0" rx="0.57" fill="#000"/><rect x="895.88" y="152" width="1.25" height="2.0" rx="0.57" fill="#000"/><rect x="902.88" y="154" width="1.25" height="3.0" rx="0.57" fill="#000"/><rect x="908.88" y="154" width="1.25" height="6.0" rx="0.57" fill="#888"/><rect x="913.88" y="152" width="1.25" height="2.0" rx="0.57" fill="#000"/><rect x="916.88" y="152" width="1.25" height="3.0" rx="0.57" fill="#000"/><rect x="919.18" y="150" width="2.04" height="16.0" rx="0.93" fill="#000"/><rect x="903.88" y="160" width="1.25" height="3.0" rx="0.57" fill="#000"/><rect x="905.88" y="161" width="1.25" height="4.0" rx="0.57" fill="#000"/><rect x="895.88" y="163" width="1.25" height="2.0" rx="0.57" fill="#000"/><rect x="898.88" y="163" width="1.25" height="2.0" rx="0.57" fill="#000"/><rect x="904.88" y="167" width="1.25" height="3.0" rx="0.57" fill="#000"/><rect x="917.14" y="165" width="2.72" height="8.0" rx="1.24" fill="#000"/><rect x="923.88" y="152" width="1.25" height="6.0" rx="0.57" fill="#888"/><rect x="923.88" y="160" width="1.25" height="10.0" rx="0.57" fill="#000"/><rect x="926.44" y="150" width="2.12" height="15.0" rx="0.97" fill="#000"/><rect x="929.88" y="156" width="1.25" height="6.0" rx="0.57" fill="#000"/><rect x="931.07" y="150" width="1.87" height="10.0" rx="0.85" fill="#000"/><rect x="927.44" y="168" width="2.12" height="10.0" rx="0.97" fill="#000"/><rect x="931.57" y="165" width="1.87" height="15.0" rx="0.85" fill="#000"/><rect x="923.88" y="171" width="1.25" height="4.0" rx="0.57" fill="#000"/><rect x="923.88" y="177" width="1.25" height="3.0" rx="0.57" fill="#000"/><rect x="925.88" y="181" width="1.25" height="2.0" rx="0.57" fill="#000"/><rect x="908.88" y="172" width="1.25" height="4.0" rx="0.57" fill="#000"/><rect x="907.88" y="178" width="1.25" height="2.0" rx="0.57" fill="#000"/><rect x="913.88" y="178" width="1.25" height="2.0" rx="0.57" fill="#000"/><rect x="894.88" y="174" width="1.25" height="2.0" rx="0.57" fill="#000"/><rect x="898.88" y="172" width="1.25" height="1.5" rx="0.57" fill="#888"/><rect x="903.88" y="171" width="1.25" height="1.5" rx="0.57" fill="#888"/><rect x="916.88" y="182" width="1.25" height="5.0" rx="0.57" fill="#000"/><rect x="918.57" y="187" width="1.87" height="10.0" rx="0.85" fill="#000"/><rect x="904.88" y="184" width="1.25" height="4.0" rx="0.57" fill="#000"/><rect x="901.88" y="183" width="1.25" height="1.5" rx="0.57" fill="#888"/><rect x="897.88" y="192" width="1.25" height="5.0" rx="0.57" fill="#000"/><rect x="895.88" y="194" width="1.25" height="2.0" rx="0.57" fill="#888"/><rect x="900.88" y="193" width="1.25" height="1.5" rx="0.57" fill="#888"/><rect x="926.07" y="187" width="1.87" height="8.0" rx="0.85" fill="#000"/><rect x="924.88" y="193" width="1.25" height="7.0" rx="0.57" fill="#000"/><rect x="931.88" y="185" width="1.25" height="15.0" rx="0.57" fill="#bbb"/></svg></body></html>
